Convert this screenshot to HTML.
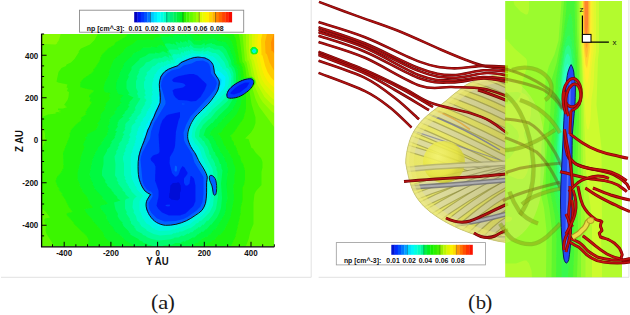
<!DOCTYPE html><html><head><meta charset="utf-8"><style>html,body{margin:0;padding:0;background:#fff;width:630px;height:315px;overflow:hidden}svg{display:block}text{font-family:"Liberation Sans",sans-serif}</style></head><body>
<svg width="630" height="315" viewBox="0 0 630 315">
<defs>
<filter id="cmapA" x="0" y="0" width="100%" height="100%" color-interpolation-filters="sRGB"><feGaussianBlur stdDeviation="1.2"/><feComponentTransfer><feFuncR type="discrete" tableValues="0.000 0.000 0.000 0.000 0.000 0.000 0.000 0.000 0.000 0.000 0.000 0.000 0.000 0.000 0.000 0.000 0.000 0.034 0.083 0.132 0.212 0.322 0.433 0.537 0.627 0.717 0.807 0.867 0.920 0.973 1.000 1.000 1.000 1.000 1.000 1.000 1.000 0.983 0.958 0.934"/><feFuncG type="discrete" tableValues="0.025 0.074 0.129 0.247 0.365 0.482 0.598 0.696 0.794 0.892 0.950 0.969 0.987 0.998 0.993 0.987 0.982 0.976 0.970 0.964 0.965 0.974 0.982 0.988 0.985 0.983 0.981 0.966 0.948 0.930 0.876 0.784 0.692 0.598 0.500 0.402 0.304 0.214 0.129 0.043"/><feFuncB type="discrete" tableValues="0.829 0.919 1.000 1.000 1.000 1.000 1.000 1.000 1.000 1.000 0.954 0.862 0.770 0.667 0.536 0.405 0.275 0.184 0.110 0.037 0.000 0.000 0.000 0.000 0.000 0.000 0.000 0.000 0.000 0.000 0.000 0.000 0.000 0.000 0.000 0.000 0.000 0.000 0.000 0.000"/></feComponentTransfer><feGaussianBlur stdDeviation="0.45"/></filter>
<filter id="bl1" filterUnits="userSpaceOnUse" x="-100" y="-100" width="830" height="515"><feGaussianBlur stdDeviation="1"/></filter>
<filter id="bl2" filterUnits="userSpaceOnUse" x="-100" y="-100" width="830" height="515"><feGaussianBlur stdDeviation="2"/></filter>
<filter id="bl3" filterUnits="userSpaceOnUse" x="-100" y="-100" width="830" height="515"><feGaussianBlur stdDeviation="3"/></filter>
<filter id="bl4" filterUnits="userSpaceOnUse" x="-100" y="-100" width="830" height="515"><feGaussianBlur stdDeviation="4"/></filter>
<filter id="bl6" filterUnits="userSpaceOnUse" x="-100" y="-100" width="830" height="515"><feGaussianBlur stdDeviation="6"/></filter>
<filter id="bl8" filterUnits="userSpaceOnUse" x="-100" y="-100" width="830" height="515"><feGaussianBlur stdDeviation="8"/></filter>
<filter id="bl10" filterUnits="userSpaceOnUse" x="-100" y="-100" width="830" height="515"><feGaussianBlur stdDeviation="10"/></filter>
<filter id="bl14" filterUnits="userSpaceOnUse" x="-100" y="-100" width="830" height="515"><feGaussianBlur stdDeviation="14"/></filter>
<clipPath id="clipA"><rect x="41.5" y="34" width="232.7" height="212.6"/></clipPath>
<clipPath id="clipBlob"><path d="M197.9,57.1 C201,57.3 205,58 205,58 C207,59 209.5,60 210.7,61.4 C212.5,63.5 213.4,65 213.6,67.1 C214,69 214.2,71 214.4,72.9 C215.5,75 217,77 217.9,78.6 C218.8,80 219.5,81.5 219.3,82.9 C219,85.5 218.8,88 217.9,90 C216.5,93 215,95 213.6,97.1 C211.5,100 210,102 207.9,104.3 C205,107 203,109 200.7,111.4 C198.5,113.5 196.5,115.2 195,117.1 C193,120 191.8,122 190.7,124.3 C189,128 188.2,130.5 187.9,132.9 C187.6,135.5 187.5,137.5 188.1,140 C189.2,143.5 190.5,146.5 191.6,148 C193,150.5 194.5,152 195.5,154 C197,157 198,159 198.6,160.5 C200.5,164 202.5,166.5 203.8,169 C205.5,172 206.8,174.5 207.3,177.1 C207.3,179 206.8,180.5 206.6,182.4 C206.6,186 206.6,189.5 206.6,192.8 C206.5,196.5 206.2,200 205.5,203.3 C204.6,206 203.5,208.3 202,210.3 C199.8,212.5 197.5,214 195.1,215.5 C192.3,217.5 189.5,219.3 186.3,220.8 C183,222.3 179.5,223.6 175.9,224.3 C172.4,225 168.8,225.4 165.4,225.3 C162.3,225 159.4,224 156.7,222.5 C154,221 151.7,218.5 149.7,215.5 C148,212.8 146.8,209.8 146.2,206.8 C145.8,204.2 146.2,201.8 147.2,199.8 C148.2,197.8 149.5,196 150.7,194.6 C148.6,193.6 146.8,192.5 145.1,191.1 C143,188.5 141.4,185.5 140.3,182.4 C139,179 138.4,175.5 138.2,171.9 C138,168.4 138,164.9 138.2,161.4 C138.5,157.9 139.2,154.4 140.3,151 C141.5,147.5 142.8,144 144.4,140.5 C145.6,137 146.8,133.5 147.9,130 C149.5,127 150.6,124.3 151.7,121.4 C153.3,118.5 154.5,115.8 155.5,112.9 C157.2,109.5 158.8,106.2 160.1,102.9 C160.5,99.5 160.4,96.2 160.1,92.9 C159.6,90 159.3,87.2 159.3,84.3 C159.5,81.8 160,79.4 160.7,77.1 C161.8,74.9 163.3,73 165,71.4 C167.2,69.7 169.6,68.6 172.1,67.7 C174,66.9 176,66.4 177.9,65.7 C178.8,64.8 179.7,63.8 180.7,62.9 C182,62 183.5,61.4 185,60.9 C187,60 188.8,59.2 190.7,58.6 C193,57.8 195.5,57.2 197.9,57.1 Z"/></clipPath>
<path id="blob" d="M197.9,57.1 C201,57.3 205,58 205,58 C207,59 209.5,60 210.7,61.4 C212.5,63.5 213.4,65 213.6,67.1 C214,69 214.2,71 214.4,72.9 C215.5,75 217,77 217.9,78.6 C218.8,80 219.5,81.5 219.3,82.9 C219,85.5 218.8,88 217.9,90 C216.5,93 215,95 213.6,97.1 C211.5,100 210,102 207.9,104.3 C205,107 203,109 200.7,111.4 C198.5,113.5 196.5,115.2 195,117.1 C193,120 191.8,122 190.7,124.3 C189,128 188.2,130.5 187.9,132.9 C187.6,135.5 187.5,137.5 188.1,140 C189.2,143.5 190.5,146.5 191.6,148 C193,150.5 194.5,152 195.5,154 C197,157 198,159 198.6,160.5 C200.5,164 202.5,166.5 203.8,169 C205.5,172 206.8,174.5 207.3,177.1 C207.3,179 206.8,180.5 206.6,182.4 C206.6,186 206.6,189.5 206.6,192.8 C206.5,196.5 206.2,200 205.5,203.3 C204.6,206 203.5,208.3 202,210.3 C199.8,212.5 197.5,214 195.1,215.5 C192.3,217.5 189.5,219.3 186.3,220.8 C183,222.3 179.5,223.6 175.9,224.3 C172.4,225 168.8,225.4 165.4,225.3 C162.3,225 159.4,224 156.7,222.5 C154,221 151.7,218.5 149.7,215.5 C148,212.8 146.8,209.8 146.2,206.8 C145.8,204.2 146.2,201.8 147.2,199.8 C148.2,197.8 149.5,196 150.7,194.6 C148.6,193.6 146.8,192.5 145.1,191.1 C143,188.5 141.4,185.5 140.3,182.4 C139,179 138.4,175.5 138.2,171.9 C138,168.4 138,164.9 138.2,161.4 C138.5,157.9 139.2,154.4 140.3,151 C141.5,147.5 142.8,144 144.4,140.5 C145.6,137 146.8,133.5 147.9,130 C149.5,127 150.6,124.3 151.7,121.4 C153.3,118.5 154.5,115.8 155.5,112.9 C157.2,109.5 158.8,106.2 160.1,102.9 C160.5,99.5 160.4,96.2 160.1,92.9 C159.6,90 159.3,87.2 159.3,84.3 C159.5,81.8 160,79.4 160.7,77.1 C161.8,74.9 163.3,73 165,71.4 C167.2,69.7 169.6,68.6 172.1,67.7 C174,66.9 176,66.4 177.9,65.7 C178.8,64.8 179.7,63.8 180.7,62.9 C182,62 183.5,61.4 185,60.9 C187,60 188.8,59.2 190.7,58.6 C193,57.8 195.5,57.2 197.9,57.1 Z"/>
<radialGradient id="gTR" cx="274" cy="34" r="70" gradientUnits="userSpaceOnUse"><stop offset="0" stop-color="#dbdbdb"/><stop offset="0.35" stop-color="#c2c2c2"/><stop offset="0.7" stop-color="#a3a3a3"/><stop offset="1" stop-color="#999999" stop-opacity="0"/></radialGradient>
<radialGradient id="gTL" cx="41" cy="34" r="120" gradientUnits="userSpaceOnUse"><stop offset="0" stop-color="#989898"/><stop offset="1" stop-color="#8f8f8f" stop-opacity="0"/></radialGradient>
<filter id="soft" x="0" y="0" width="100%" height="100%"><feGaussianBlur stdDeviation="0.5"/></filter>
</defs>
<g clip-path="url(#clipA)"><g filter="url(#soft)">
<rect x="41" y="33" width="235" height="215" fill="#0008d7"/>
<path fill="#0019f5" fill-rule="evenodd" d="M173.0,183.0 179.0,182.5 180.5,185.0 181.0,189.5 180.0,193.0 180.0,197.5 179.5,199.0 177.5,200.5 171.5,199.5 169.0,197.5 170.5,185.5ZM41.0,33.5 41.0,247.0 274.5,247.0 274.5,33.5Z"/>
<path fill="#003aff" fill-rule="evenodd" d="M165.5,205.0 166.0,206.0 168.0,206.5 170.0,206.0 169.5,204.5ZM180.0,112.0 180.0,117.0 178.5,120.5 176.0,131.5 175.0,146.5 173.5,151.0 170.0,157.0 169.5,163.0 172.0,173.0 175.0,176.5 176.5,176.5 178.5,174.5 180.5,169.0 182.5,166.0 184.5,167.5 187.5,172.5 187.5,174.0 184.0,178.5 184.0,183.0 185.5,185.5 187.5,185.5 189.5,183.5 190.5,176.0 191.5,176.0 194.0,178.5 195.5,185.5 195.5,201.0 193.5,206.0 185.5,213.5 180.0,215.5 169.0,215.5 162.0,212.5 158.0,208.5 156.5,205.5 158.5,196.5 158.5,190.5 155.0,180.5 155.5,166.5 154.0,163.5 151.0,160.5 150.5,158.5 153.0,155.5 158.5,153.5 159.5,151.5 158.5,134.5 160.5,125.0 162.5,120.0 166.5,115.5 168.5,114.5ZM249.5,82.5 247.0,87.0 240.0,92.5 234.0,94.5 230.5,94.0 230.5,92.5 235.0,88.0 239.5,85.0 245.0,82.5ZM174.0,78.0 179.0,76.0 189.0,74.0 193.5,74.0 197.5,75.5 206.5,84.0 206.5,85.5 204.5,90.5 200.5,97.0 196.0,101.0 191.0,101.5 187.0,100.5 178.5,100.0 175.5,97.5 173.5,94.5 172.5,90.5 174.5,89.0 183.0,87.5 185.5,85.5 184.5,84.0 182.0,83.0 173.5,82.0 172.0,80.0ZM41.0,33.5 41.0,247.0 274.5,247.0 274.5,33.5Z"/>
<path fill="#0062ff" fill-rule="evenodd" d="M175.0,165.5 174.5,170.5 176.0,172.0 177.0,170.5 177.0,166.5ZM182.0,103.5 182.5,104.5 185.5,104.0ZM253.5,80.0 254.0,83.0 251.5,87.5 248.0,91.5 242.5,95.5 234.0,98.5 228.5,98.5 226.5,97.5 226.0,94.5 227.5,90.0 232.5,85.0 237.0,82.0 244.5,78.5 251.5,78.0ZM203.0,60.5 207.5,62.5 209.0,64.0 210.5,68.0 211.0,73.5 216.0,80.0 217.0,83.5 215.0,89.0 210.5,95.0 190.5,116.5 186.0,125.0 183.5,132.5 184.0,140.0 185.5,143.5 192.0,154.0 194.5,162.5 203.5,177.0 203.5,194.0 202.5,202.0 200.5,206.5 196.0,211.0 187.5,217.0 183.5,219.0 175.5,221.0 164.5,221.5 157.0,218.5 151.5,213.0 149.0,208.5 148.5,203.0 152.5,196.5 152.5,193.5 151.0,191.5 149.0,191.0 146.5,189.0 144.0,185.5 142.5,181.0 140.5,160.0 141.0,156.5 142.5,152.0 150.0,138.5 151.0,131.5 154.0,123.0 165.5,104.0 165.5,101.0 161.0,86.0 161.5,81.5 163.0,78.0 167.5,73.0 171.5,70.5 179.5,68.5 183.5,65.5 191.5,63.5 196.5,61.0ZM41.0,33.5 41.0,247.0 274.5,247.0 274.5,33.5Z"/>
<path fill="#008aff" fill-rule="evenodd" d="M210.5,175.0 212.5,175.5 214.5,177.5 216.0,181.5 216.5,191.0 215.0,195.0 214.0,195.0 213.0,193.5 211.5,184.0 209.0,178.5 209.0,177.0ZM253.5,80.0 254.0,83.0 251.5,87.5 248.0,91.5 242.5,95.5 234.0,98.5 228.5,98.5 226.5,97.5 226.0,94.5 227.5,90.0 232.5,85.0 237.0,82.0 244.5,78.5 251.5,78.0ZM204.0,57.5 209.5,60.0 211.5,62.0 213.5,67.0 214.0,72.5 219.5,80.5 219.0,87.5 214.0,95.5 206.0,105.0 194.5,116.5 191.0,121.5 187.0,131.5 187.0,138.5 190.0,145.5 193.5,150.0 193.0,150.5 196.5,156.5 197.5,160.5 207.0,176.5 206.5,194.5 205.5,202.5 203.0,208.0 201.0,210.5 187.5,220.0 180.0,223.0 171.0,224.5 163.5,224.5 158.5,223.0 152.5,219.0 146.5,210.0 146.0,201.5 149.5,194.5 144.0,190.5 139.5,182.5 140.0,182.0 138.5,177.0 139.0,175.0 138.0,167.0 138.5,155.5 141.5,146.5 146.0,137.5 147.5,132.5 147.0,131.5 149.0,128.0 149.5,125.0 161.0,103.0 160.0,92.5 159.0,92.0 158.5,82.5 160.0,76.5 165.5,70.5 171.0,67.5 177.5,65.5 182.5,61.5 185.0,61.5 186.0,60.5 192.5,59.0 195.0,57.5ZM41.0,33.5 41.0,247.0 274.5,247.0 274.5,33.5Z"/>
<path fill="#00adff" fill-rule="evenodd" d="M210.0,174.5 212.5,175.0 215.0,177.5 216.5,181.0 217.0,191.0 216.5,193.5 215.0,195.5 214.0,195.5 212.5,193.5 211.0,184.5 208.5,179.0 208.5,176.5ZM253.5,80.0 254.0,83.0 251.5,87.5 248.0,91.5 242.5,95.5 234.0,98.5 228.5,98.5 226.5,97.5 226.0,94.5 227.5,90.0 232.5,85.0 237.0,82.0 244.5,78.5 251.5,78.0ZM204.5,57.0 209.5,59.5 212.0,62.0 214.0,66.5 214.5,72.5 219.5,80.5 219.5,85.0 218.0,90.5 212.5,99.0 207.0,105.5 195.5,116.5 192.0,121.5 188.0,132.0 188.0,139.5 190.5,146.0 196.0,154.0 198.5,160.0 205.0,170.0 207.5,176.0 207.0,194.5 206.0,203.0 203.5,208.5 201.5,211.0 188.0,220.5 177.0,224.5 171.5,225.5 163.5,225.5 158.5,224.0 152.5,220.0 148.5,215.0 146.0,210.0 145.5,201.5 149.5,194.5 144.0,190.5 141.5,187.0 138.5,180.0 137.5,174.5 138.0,155.5 140.0,148.5 141.0,147.5 144.0,138.0 145.0,137.0 147.0,129.5 148.5,127.5 150.5,121.5 153.0,117.5 155.0,111.5 159.5,102.5 158.5,82.5 160.0,76.5 162.0,73.5 167.0,69.0 176.5,65.5 181.0,61.5 188.0,58.5 194.5,56.5ZM41.0,33.5 41.0,247.0 274.5,247.0 274.5,33.5Z"/>
<path fill="#00ceff" fill-rule="evenodd" d="M210.0,174.5 212.5,175.0 215.0,177.5 216.5,181.0 217.0,191.0 216.5,193.5 215.0,195.5 214.0,195.5 212.5,193.5 211.0,184.5 208.5,179.0 208.5,176.5ZM253.5,80.0 254.0,83.0 251.5,87.5 248.0,91.5 242.5,95.5 234.0,98.5 228.5,98.5 226.5,97.5 226.0,94.5 227.5,90.0 232.5,85.0 237.0,82.0 244.5,78.5 251.5,78.0ZM204.5,57.0 209.5,59.5 212.0,62.0 214.0,66.5 214.5,72.5 219.5,80.5 219.5,85.0 218.0,90.5 212.5,99.0 207.0,105.5 195.5,116.5 192.0,121.5 188.0,132.0 188.0,139.5 190.5,146.0 196.0,154.0 198.5,160.0 205.0,170.0 207.5,176.0 207.0,194.5 206.0,203.0 203.5,208.5 201.5,211.0 188.0,220.5 177.0,224.5 171.5,225.5 163.5,225.5 158.5,224.0 152.5,220.0 148.5,215.0 146.0,210.0 145.5,201.5 149.5,194.5 144.0,190.5 141.5,187.0 138.5,180.0 137.5,174.5 138.0,155.5 140.0,148.5 141.0,147.5 144.0,138.0 145.0,137.0 147.0,129.5 148.5,127.5 150.5,121.5 153.0,117.5 155.0,111.5 159.5,102.5 158.5,82.5 160.0,76.5 162.0,73.5 167.0,69.0 176.5,65.5 181.0,61.5 188.0,58.5 194.5,56.5ZM41.0,33.5 41.0,247.0 274.5,247.0 274.5,33.5Z"/>
<path fill="#00f0ff" fill-rule="evenodd" d="M210.0,174.5 212.5,175.0 215.0,177.5 216.5,181.0 217.0,191.0 216.5,193.5 215.0,195.5 214.0,195.5 212.5,193.5 211.0,184.5 208.5,179.0 208.5,176.5ZM253.5,80.0 254.0,83.0 251.5,87.5 248.0,91.5 242.5,95.5 234.0,98.5 228.5,98.5 226.5,97.5 226.0,94.5 227.5,90.0 232.5,85.0 237.0,82.0 244.5,78.5 251.5,78.0ZM204.5,57.0 209.5,59.5 212.0,62.0 214.0,66.5 215.0,73.5 217.0,76.5 220.0,78.0 221.5,80.0 221.0,84.5 219.5,86.0 218.0,90.5 212.5,99.0 207.0,105.5 195.5,116.5 192.0,121.5 188.0,132.0 188.0,139.5 190.5,146.0 196.0,154.0 198.5,160.0 205.0,170.0 207.5,176.0 207.0,194.5 206.0,203.0 203.5,208.5 201.5,211.0 188.0,220.5 177.0,224.5 171.5,225.5 163.5,225.5 158.5,224.0 152.5,220.0 148.5,215.0 146.0,210.0 145.5,201.5 149.5,194.5 144.0,190.5 141.5,187.0 138.5,180.0 137.5,174.5 138.0,155.5 140.0,148.5 141.0,147.5 144.0,138.0 145.0,137.0 147.0,129.5 148.5,127.5 150.5,121.5 153.0,117.5 155.0,111.5 159.5,102.5 158.5,82.5 160.0,76.5 162.0,73.5 167.0,69.0 176.5,65.5 181.0,61.5 188.0,58.5 194.5,56.5ZM41.0,33.5 41.0,247.0 274.5,247.0 274.5,33.5Z"/>
<path fill="#00f6df" fill-rule="evenodd" d="M210.0,174.5 212.5,175.0 215.0,177.5 216.5,181.0 217.0,191.0 216.5,193.5 215.0,195.5 214.0,195.5 212.5,193.5 211.0,184.5 208.5,179.0 208.5,176.5ZM253.5,80.0 254.0,83.0 251.5,87.5 248.0,91.5 242.5,95.5 234.0,98.5 228.5,98.5 226.5,97.5 226.0,94.5 227.5,90.0 232.5,85.0 237.0,82.0 244.5,78.5 251.5,78.0ZM204.5,56.5 210.0,59.0 215.0,64.5 216.0,68.0 217.0,68.5 217.0,71.0 218.5,71.0 220.0,72.5 220.5,72.0 225.5,77.0 225.0,85.5 223.0,89.5 196.0,116.5 190.5,125.5 188.5,132.5 189.5,140.0 193.5,147.5 196.0,150.0 199.5,158.0 199.5,159.5 204.0,167.5 207.5,176.0 208.0,195.0 207.0,202.0 204.0,209.0 198.0,214.5 197.0,214.5 195.5,216.5 194.5,216.5 188.0,221.5 171.5,226.5 160.5,226.5 157.0,225.5 156.5,224.5 154.0,223.5 148.5,217.5 148.5,216.0 147.0,214.5 147.0,213.0 146.0,212.0 146.5,211.0 145.5,210.0 145.5,201.5 149.5,194.5 146.0,192.5 142.5,188.5 140.0,184.0 138.0,177.5 137.5,158.0 139.0,153.5 138.5,152.0 140.0,150.0 139.5,148.5 141.0,147.5 140.5,145.5 142.5,140.5 142.0,139.5 143.0,139.0 142.0,137.5 143.0,136.5 144.0,137.0 143.0,136.0 143.0,133.5 144.5,131.5 144.0,130.0 145.0,129.5 144.0,129.0 146.0,127.5 146.5,128.0 145.5,127.0 146.5,126.5 145.5,126.0 147.0,125.0 146.0,124.5 148.0,123.0 148.0,121.0 150.0,120.0 149.0,119.0 151.0,118.0 150.5,117.0 152.0,113.5 153.5,112.0 153.0,111.5 155.0,109.0 155.5,109.5 155.0,108.5 158.0,102.0 158.0,97.5 159.5,92.5 158.5,88.0 158.5,82.5 160.0,76.5 162.0,73.5 167.0,69.0 177.5,65.0 181.5,60.5 184.0,60.0 185.0,59.0 194.0,56.0ZM41.0,33.5 41.0,247.0 274.5,247.0 274.5,33.5Z"/>
<path fill="#00fcc0" fill-rule="evenodd" d="M253.5,80.0 254.0,83.0 251.5,87.5 248.0,91.5 242.5,95.5 234.0,98.5 228.5,98.5 226.5,97.5 226.0,94.5 227.5,90.0 232.5,85.0 237.0,82.0 244.5,78.5 251.5,78.0ZM206.5,54.0 211.0,56.5 212.5,56.0 215.0,58.0 220.0,64.0 220.5,66.5 222.0,67.0 222.5,69.5 224.5,69.5 227.0,72.5 229.0,78.0 228.5,84.0 226.5,90.5 224.5,93.5 216.0,101.0 207.0,110.0 205.5,112.5 204.0,113.0 197.0,120.5 193.0,127.0 191.5,136.5 195.0,143.5 198.0,146.5 200.5,151.0 202.5,158.0 204.0,159.5 204.5,162.5 206.5,165.0 206.5,167.0 208.0,168.0 210.0,174.5 212.5,175.0 216.0,179.5 217.0,184.5 216.5,193.5 215.0,195.5 213.0,194.5 210.5,183.5 211.0,195.0 209.5,204.5 207.5,209.0 203.0,214.5 199.0,218.0 198.5,217.5 196.0,220.0 195.5,219.5 195.0,220.5 194.0,220.5 189.5,224.5 188.0,224.5 185.5,226.0 185.0,225.5 183.0,227.0 182.5,226.5 181.5,227.5 179.0,227.5 178.0,228.5 176.0,228.5 174.5,229.5 173.5,229.0 170.0,230.5 159.5,231.0 155.0,229.5 154.5,228.5 153.0,228.5 149.5,225.0 146.5,223.5 144.0,220.0 144.5,219.5 142.5,218.0 142.0,215.5 141.0,214.5 141.5,213.5 139.5,211.0 139.5,201.0 142.0,197.0 143.5,196.0 136.5,189.0 136.5,187.0 134.5,185.5 135.0,185.0 131.5,178.0 132.0,176.0 131.0,175.0 130.5,157.0 131.5,155.5 130.5,155.0 132.5,151.5 132.0,150.5 133.5,148.0 133.0,147.0 135.0,145.0 134.0,144.0 135.5,142.5 135.0,141.0 136.5,139.0 135.5,136.5 137.5,134.0 136.5,133.5 137.5,132.0 137.0,131.5 138.5,130.0 137.5,129.0 139.0,127.5 138.5,127.0 141.0,125.0 140.0,124.0 141.0,123.0 140.5,122.5 143.0,120.5 142.5,119.0 146.5,115.0 145.5,114.5 147.0,113.0 146.5,112.0 148.5,110.5 148.0,109.5 151.0,106.5 150.0,105.5 152.0,103.0 151.5,101.5 153.0,100.5 151.5,100.0 151.5,96.0 153.0,94.5 152.0,93.0 152.0,91.0 153.0,90.5 152.0,88.5 152.5,82.0 153.5,80.5 153.0,78.5 154.5,77.0 154.0,76.0 155.0,75.5 154.0,75.0 156.5,73.0 156.0,72.5 157.5,71.5 157.0,71.0 162.0,66.5 164.0,67.0 164.0,65.5 165.5,66.0 168.0,64.0 170.0,64.0 171.5,65.0 171.0,64.0 172.0,63.0 174.0,64.0 174.0,62.5 175.5,63.5 175.0,60.5 177.5,58.0 180.5,57.5 181.5,58.5 182.0,57.0 183.0,58.0 182.0,56.0 182.5,55.5 185.0,57.0 185.5,54.5 187.5,55.5 189.5,54.0 191.0,54.5 191.0,53.0 192.5,54.0 192.5,52.5 194.0,53.5 201.0,54.0 202.5,53.0 203.0,54.5ZM253.0,48.5 255.0,48.5 256.5,50.0 256.5,52.0 254.5,53.5 253.0,53.0 251.5,51.0ZM41.0,33.5 41.0,247.0 274.5,247.0 274.5,33.5Z"/>
<path fill="#00fd99" fill-rule="evenodd" d="M208.0,50.5 209.5,52.0 210.0,51.5 212.5,53.0 215.5,53.0 218.5,55.0 224.5,62.5 226.5,68.0 227.5,68.0 229.5,70.5 231.5,76.5 230.5,87.5 232.5,85.0 237.0,82.0 244.5,78.5 251.5,78.0 253.5,80.0 254.0,83.0 250.0,89.5 241.5,96.0 234.0,98.5 228.5,98.5 227.0,98.0 226.5,96.5 219.5,103.5 212.5,109.5 210.5,112.5 209.5,112.5 207.0,116.0 206.0,116.0 201.5,120.5 196.5,128.0 195.0,132.5 195.0,137.0 203.5,148.0 206.0,156.0 212.5,169.0 213.5,176.0 215.0,177.5 216.5,181.0 216.5,193.5 215.0,195.5 214.0,195.5 213.0,205.5 209.5,212.5 201.0,221.0 200.0,220.5 198.0,223.0 196.0,223.5 195.0,225.0 190.0,228.5 189.5,228.0 182.0,231.5 179.5,231.5 178.5,232.5 176.5,232.5 175.0,233.5 174.0,233.0 171.5,234.5 160.0,235.5 153.5,234.0 146.5,230.5 146.5,229.5 141.0,226.0 141.0,225.0 139.5,224.0 140.0,223.0 137.0,220.5 136.0,216.0 133.5,212.5 134.0,211.0 132.5,207.5 133.0,201.0 134.0,199.0 136.0,197.0 137.0,197.0 131.5,191.5 131.0,189.5 129.0,187.5 129.0,186.5 127.5,185.0 128.0,184.5 125.5,181.5 126.5,181.0 124.5,178.5 125.5,177.5 124.0,175.5 124.0,163.5 123.0,159.5 123.0,156.5 124.5,154.0 123.5,153.5 125.5,151.0 125.0,149.0 126.5,147.0 126.0,145.5 129.0,142.5 128.0,142.0 129.5,140.0 128.5,139.5 130.5,137.0 129.0,135.0 131.5,131.5 130.5,131.0 131.5,130.0 131.5,127.0 132.5,125.0 136.0,122.0 135.0,121.5 135.0,120.5 138.0,118.0 136.5,117.5 141.5,112.5 140.5,112.0 142.0,110.5 141.0,110.0 143.0,108.0 142.5,107.5 144.5,105.5 144.0,105.0 145.5,104.0 144.5,103.0 146.5,100.5 145.5,100.0 146.5,99.0 144.5,98.5 144.5,96.0 146.0,95.5 144.5,93.0 145.5,91.0 144.0,88.0 144.0,82.0 145.5,79.5 144.5,78.0 147.0,74.5 146.5,72.5 150.5,69.5 150.5,68.5 152.0,68.0 151.5,67.5 152.5,66.5 154.5,66.0 158.5,62.5 161.5,63.0 160.5,62.0 161.0,61.5 164.0,62.5 164.0,61.5 165.0,62.0 164.5,61.5 166.0,61.5 166.0,60.5 167.0,61.0 167.0,60.0 170.0,61.5 170.5,62.5 170.5,59.0 172.5,60.5 173.0,59.0 174.0,60.0 172.0,56.5 173.5,54.0 177.5,54.5 178.0,53.5 180.5,55.0 180.0,54.0 181.0,53.5 181.0,52.0 184.0,53.0 184.0,51.0 186.5,52.0 186.0,51.0 186.5,50.5 188.0,51.5 188.0,50.0 190.5,52.0 190.0,50.0 190.5,49.5 191.5,50.5 191.5,49.0 194.0,51.0 201.0,51.5 203.5,50.0 203.5,52.0ZM253.0,48.5 255.0,48.5 256.5,50.0 256.5,52.0 254.5,53.5 253.0,53.0 251.5,51.0ZM41.0,33.5 41.0,247.0 274.5,247.0 274.5,33.5Z"/>
<path fill="#00fc6c" fill-rule="evenodd" d="M253.0,48.5 255.0,48.5 256.5,50.0 256.5,52.0 254.5,53.5 253.0,53.0 251.5,51.0ZM219.0,49.5 223.0,53.0 228.0,61.5 229.5,67.0 231.0,67.5 233.5,73.5 233.5,84.5 241.0,80.0 247.5,78.0 251.5,78.0 253.5,80.0 254.0,83.0 250.0,89.5 242.5,95.5 234.0,98.5 229.0,98.5 227.5,101.0 216.0,111.5 210.5,118.5 208.5,119.5 203.0,125.0 201.0,129.0 200.0,129.5 199.0,136.5 201.5,138.5 203.0,141.0 204.0,141.0 206.0,145.5 207.0,146.0 209.0,151.0 209.5,154.5 211.0,155.0 211.5,158.5 212.5,158.5 215.0,163.5 215.0,165.5 216.5,167.0 216.5,170.0 217.5,172.0 217.0,188.0 218.0,196.5 216.0,209.0 212.5,215.5 208.0,221.0 207.0,220.5 203.5,225.0 202.5,224.5 200.0,227.5 198.5,227.0 197.0,229.0 196.5,228.5 195.5,230.0 195.0,229.5 192.0,232.5 191.0,232.0 188.5,234.0 187.5,233.5 183.5,236.0 181.5,235.5 178.5,237.5 174.5,237.5 173.5,238.5 169.5,239.5 159.0,240.5 151.5,239.0 146.5,237.0 146.0,236.0 143.0,235.0 142.0,233.5 137.0,231.0 135.5,229.5 136.0,229.0 134.0,227.5 135.0,227.0 131.0,223.5 131.0,221.5 129.5,220.0 130.0,219.0 126.0,213.0 127.0,212.5 125.0,208.5 125.0,200.5 126.0,199.0 129.5,198.0 125.5,194.5 125.0,192.5 122.0,190.0 123.0,189.5 118.0,183.5 118.5,182.5 116.5,180.0 117.5,179.0 115.0,175.5 115.5,164.5 114.5,156.5 116.5,153.0 116.0,151.5 118.5,148.0 117.5,147.5 119.5,145.0 118.5,144.0 122.0,140.0 121.5,139.0 123.0,137.5 122.5,136.5 124.5,134.0 122.5,133.0 125.5,129.0 124.5,128.5 125.5,126.0 125.0,125.0 126.0,123.0 130.0,119.5 128.5,118.5 132.0,115.5 131.0,115.0 134.5,112.0 133.5,111.5 135.5,110.0 135.0,107.5 140.5,98.5 137.0,97.0 138.5,96.5 137.0,93.5 138.0,92.0 136.0,88.0 136.0,81.0 137.5,78.0 136.5,77.0 139.0,72.5 138.5,71.5 139.5,70.5 139.5,69.0 144.0,65.5 146.0,62.5 149.5,61.5 154.0,58.5 158.5,58.5 158.5,57.5 161.5,58.0 165.0,56.0 168.0,57.0 169.5,58.5 168.5,55.5 169.0,55.0 171.5,56.5 171.0,54.5 168.5,51.0 169.5,49.5 177.0,49.5 179.0,50.5 178.0,48.0 178.5,47.5 180.0,47.5 182.5,49.0 181.5,47.5 182.0,46.5 185.0,48.0 184.5,47.0 186.5,47.0 186.5,45.5 189.5,48.0 189.0,46.0 190.0,46.0 190.0,44.5 194.0,48.0 201.0,48.5 204.0,47.0 204.5,49.0 207.0,47.5 210.0,47.0 210.0,48.0 211.0,47.5 211.0,48.5 212.0,48.0 214.5,49.5ZM41.0,33.5 41.0,247.0 274.5,247.0 274.5,33.5Z"/>
<path fill="#00fa40" fill-rule="evenodd" d="M253.0,48.5 255.0,48.5 256.5,50.0 256.5,52.0 254.5,53.5 253.0,53.0 251.5,51.0ZM222.5,46.0 226.0,49.5 231.0,60.5 231.5,64.5 234.5,68.5 236.0,74.0 236.0,83.0 241.0,80.0 247.5,78.0 251.5,78.0 253.5,80.0 254.0,83.0 251.5,87.5 248.0,91.5 242.5,95.5 233.0,99.0 228.0,107.0 218.5,116.0 216.5,119.0 216.0,118.5 212.5,123.0 211.5,123.0 206.0,128.5 203.5,135.5 205.0,136.0 206.0,138.0 207.5,138.5 209.5,141.0 210.0,143.5 211.0,143.5 211.5,146.5 214.0,152.0 215.0,152.0 215.5,155.0 218.0,158.0 220.0,164.0 221.0,164.0 221.5,168.5 222.5,170.5 221.0,183.5 222.0,198.0 221.0,208.0 219.5,212.5 217.0,217.5 211.0,225.0 210.5,224.5 206.5,229.5 206.0,229.0 203.0,232.0 201.5,231.5 200.0,233.5 199.5,233.0 198.5,234.5 198.0,234.0 194.5,237.5 192.5,237.5 187.5,240.5 187.0,240.0 184.5,242.0 183.5,241.0 180.5,243.0 175.5,243.0 171.5,245.0 165.5,245.0 160.5,246.5 154.0,246.5 150.5,245.0 148.5,245.0 146.5,243.5 143.0,242.5 142.5,241.5 139.5,240.5 138.5,239.0 131.0,235.0 130.0,234.0 130.5,233.5 128.5,232.0 129.0,231.5 123.0,225.5 123.5,225.0 122.0,223.5 123.0,223.0 119.5,219.5 117.5,216.0 118.0,214.0 115.5,209.5 114.0,202.5 120.5,200.5 117.5,198.5 117.0,196.5 113.5,193.5 114.0,193.0 111.5,190.5 111.5,189.5 107.0,185.5 107.5,184.5 105.0,182.0 105.5,180.5 102.0,175.5 102.0,171.0 103.5,164.0 103.5,157.0 107.0,151.0 107.0,149.5 110.5,146.0 110.0,145.0 112.0,142.5 111.0,142.0 115.0,137.5 114.5,136.5 116.0,134.5 115.0,134.0 117.0,131.5 115.0,130.5 118.0,126.5 117.0,125.0 118.0,124.0 117.5,122.5 119.0,121.0 118.5,120.5 123.5,116.5 122.0,115.5 125.0,113.0 124.5,112.0 128.0,109.0 127.5,108.5 129.5,106.5 128.0,105.0 130.0,103.0 129.0,102.5 133.5,97.5 128.5,95.0 128.0,94.0 129.5,93.5 126.5,88.5 126.5,81.5 129.0,76.5 128.0,75.5 131.5,69.5 131.5,67.0 139.5,59.5 139.5,58.5 145.5,56.0 149.0,53.5 155.0,53.5 155.0,52.5 159.5,53.5 159.5,52.5 160.5,53.0 160.0,52.5 161.5,52.5 161.5,51.5 162.5,52.0 162.5,51.0 168.0,53.5 167.0,51.0 168.5,50.5 164.5,44.5 166.0,43.5 170.0,43.5 172.5,44.5 173.0,43.5 177.0,45.5 175.5,42.5 176.0,41.5 180.0,43.5 180.0,41.0 183.5,43.0 183.0,42.0 184.0,41.5 185.0,42.5 184.5,41.5 185.5,41.0 188.0,43.0 187.5,41.0 188.5,39.5 191.0,41.0 194.0,44.5 201.0,45.0 204.5,43.0 205.0,45.5 207.0,44.0 212.0,43.0 212.0,44.0 213.5,44.0 213.0,44.5 214.0,44.0 216.5,45.5ZM41.0,33.5 41.0,247.0 274.5,247.0 274.5,33.5Z"/>
<path fill="#0ff825" fill-rule="evenodd" d="M253.0,48.5 255.0,48.5 256.5,50.0 256.5,52.0 254.5,53.5 253.0,53.0 251.5,51.0ZM41.0,33.5 41.0,247.0 135.5,247.0 133.5,245.0 124.5,240.0 123.5,238.0 121.5,237.0 122.0,236.5 115.0,231.5 114.0,230.0 114.5,229.5 113.0,228.5 113.5,227.5 110.5,225.0 106.5,218.5 106.5,216.0 100.0,207.5 100.5,205.5 107.5,204.0 107.5,203.0 102.0,198.0 103.0,197.5 94.0,188.0 94.5,187.0 92.5,184.5 93.0,183.5 91.0,180.0 89.5,174.5 92.5,159.5 96.0,151.5 98.0,149.0 97.5,148.0 102.0,143.5 101.0,143.0 104.0,140.0 103.0,139.5 107.5,134.5 107.0,133.0 108.5,131.5 107.5,131.0 109.0,128.5 107.5,127.0 110.0,123.0 109.0,122.5 110.0,120.5 109.0,120.0 110.5,118.5 110.5,117.5 115.5,113.0 114.0,112.0 117.0,109.5 116.0,108.5 120.0,105.0 119.5,104.5 121.5,102.5 119.5,101.0 121.0,99.5 120.5,98.5 123.5,95.0 119.0,94.5 118.0,93.5 116.0,88.5 116.5,82.0 120.0,74.5 119.0,74.0 123.0,67.0 124.0,63.5 130.0,57.5 132.0,56.5 131.5,56.0 134.0,53.0 140.0,50.5 143.0,47.5 151.0,47.5 151.0,46.5 156.5,47.5 157.5,47.0 157.5,46.0 158.5,46.5 158.0,46.0 159.5,45.0 162.5,45.5 166.0,47.5 161.0,38.0 161.5,36.5 169.0,37.0 168.5,36.5 169.5,36.0 174.0,38.0 172.5,35.0 173.5,34.5 177.5,36.5 176.5,35.0 177.0,34.0 180.5,36.0 181.5,35.0 182.5,35.5 183.0,34.5 186.5,37.0 186.5,33.5 190.0,35.5 194.5,40.5 201.5,40.5 205.0,38.5 205.5,41.0 209.5,39.0 214.0,38.5 218.5,41.0 225.5,42.0 230.0,48.0 231.0,52.5 232.5,55.0 234.5,64.5 236.0,65.5 238.0,71.0 238.5,81.5 244.5,78.5 251.5,78.0 254.0,81.0 254.0,83.0 250.0,89.5 242.5,95.5 237.5,97.0 236.5,102.0 232.5,109.5 223.0,119.0 221.0,122.0 219.0,123.0 216.0,127.5 215.0,127.0 210.5,132.0 210.5,133.5 209.5,134.0 209.5,135.0 212.5,136.0 214.5,140.5 215.5,141.0 216.0,143.5 220.0,150.0 220.5,152.5 222.5,154.0 223.0,156.0 224.5,157.5 225.0,160.5 227.0,163.5 227.0,166.5 228.0,168.5 226.5,184.0 227.5,198.5 226.0,204.5 226.0,209.0 224.5,214.5 215.0,230.0 214.0,229.5 210.0,235.0 209.5,234.0 207.0,237.0 205.0,237.0 203.5,238.5 203.0,238.0 197.5,243.0 195.5,243.0 193.0,245.5 192.0,245.0 190.0,247.0 274.5,247.0 274.5,33.5Z"/>
<path fill="#1ff60c" fill-rule="evenodd" d="M252.0,47.0 255.0,46.5 258.0,49.0 258.5,51.5 256.5,54.5 253.0,55.0 250.5,53.0 250.0,49.5ZM217.5,33.5 221.0,36.0 225.5,36.5 229.5,38.5 232.0,42.0 235.5,54.0 237.0,64.0 238.5,64.5 240.0,68.5 241.5,79.5 244.5,78.0 251.5,77.5 254.0,80.0 254.5,83.0 250.5,89.5 242.0,96.0 241.0,104.5 236.5,114.5 223.0,129.0 222.0,131.5 220.5,133.0 219.5,132.5 217.5,134.0 219.0,134.5 221.5,138.0 224.5,146.0 225.5,146.0 226.5,149.5 227.5,149.5 229.0,153.5 230.0,153.5 231.0,157.0 232.5,158.5 233.5,163.5 235.0,166.5 235.5,171.0 234.5,175.0 234.5,183.0 233.5,185.0 234.0,199.0 230.5,217.5 225.0,229.0 220.0,235.5 219.0,234.5 214.5,240.0 213.0,240.0 209.5,243.0 208.5,242.5 203.5,247.0 274.5,247.0 274.5,33.5ZM206.0,35.5 212.0,33.5 206.5,33.5ZM193.5,33.5 194.0,34.5 200.5,35.5 205.0,33.5ZM41.0,33.5 41.0,247.0 116.5,247.0 115.0,246.5 114.5,245.0 112.5,244.0 112.5,243.0 108.5,241.0 104.5,237.0 103.0,232.5 92.0,220.0 92.5,219.5 87.5,214.5 84.5,210.0 85.0,209.0 93.0,207.5 89.0,203.0 90.0,202.5 87.5,199.0 87.5,197.5 82.0,191.0 82.5,190.0 79.5,186.0 80.0,185.0 77.5,179.0 77.5,173.0 80.5,161.0 80.5,157.5 84.5,146.5 83.0,145.0 84.5,141.0 86.5,139.0 84.5,138.0 88.0,135.5 87.0,135.5 86.5,134.5 96.5,129.5 95.5,129.0 97.5,127.5 97.0,126.5 99.0,125.0 97.0,123.5 100.5,119.5 99.5,119.0 100.5,117.5 100.5,114.5 105.5,108.5 104.0,107.5 106.5,104.5 105.0,104.0 109.5,99.5 109.0,99.0 110.5,97.5 108.5,96.5 110.0,95.0 109.0,94.5 110.5,93.0 105.5,92.5 104.0,91.0 103.5,87.5 105.0,82.0 109.0,75.0 109.5,73.0 108.5,72.5 113.0,61.0 115.5,58.0 123.5,51.5 123.5,50.5 126.0,47.5 132.5,44.0 137.0,40.0 146.0,40.0 146.0,39.0 152.5,40.0 154.5,38.5 154.5,37.5 155.5,38.0 155.5,37.0 161.0,37.5 158.5,33.5Z"/>
<path fill="#3af600" fill-rule="evenodd" d="M252.0,47.0 255.0,46.5 258.0,49.0 258.5,51.5 256.5,54.5 253.0,55.0 250.5,53.0 250.0,49.5ZM232.5,33.5 234.0,35.0 236.0,40.0 239.5,62.0 241.0,63.5 242.5,67.5 244.0,78.0 252.0,77.5 254.5,80.5 254.5,83.5 250.5,90.0 246.0,93.5 246.0,109.5 243.5,118.5 233.0,133.5 230.0,136.0 231.5,137.0 232.0,140.0 234.0,142.5 234.0,145.0 235.5,145.5 238.5,154.5 240.0,156.0 241.5,162.0 243.0,163.5 245.0,170.5 245.0,179.5 244.0,185.0 242.5,187.5 242.5,200.5 241.0,206.5 240.5,214.0 235.5,236.5 231.5,245.0 229.5,247.0 228.0,245.5 225.5,247.0 274.5,247.0 274.5,33.5ZM41.0,33.5 41.0,247.0 89.5,247.0 87.5,243.5 88.5,242.5 88.5,239.5 86.5,236.0 73.5,223.5 74.0,223.0 67.0,215.5 66.5,214.0 67.5,213.0 72.5,212.0 68.5,206.5 65.0,199.0 61.5,194.5 62.5,194.0 58.5,189.5 59.5,189.0 57.5,186.5 55.5,181.0 57.0,177.0 61.0,172.5 63.5,167.5 63.0,153.0 70.0,135.0 69.5,133.5 71.0,131.0 70.5,130.5 76.0,124.5 81.0,120.5 81.0,119.5 82.5,119.0 80.5,118.0 86.5,114.0 85.0,113.5 86.5,112.5 85.0,112.0 87.0,110.5 86.5,110.0 91.5,103.0 91.5,102.0 89.5,101.0 90.5,98.0 89.0,97.0 89.0,95.5 92.0,92.5 93.5,92.0 93.0,91.0 94.0,90.5 81.0,87.5 80.0,86.5 80.5,82.0 83.5,78.5 91.0,73.5 94.0,70.5 93.0,70.0 96.0,66.5 100.5,59.0 100.0,58.5 102.0,54.5 108.0,48.5 114.0,45.0 115.5,42.5 126.0,36.5 128.0,33.5Z"/>
<path fill="#60f900" fill-rule="evenodd" d="M41.0,208.0 41.0,247.0 54.0,247.0 51.5,241.5 46.5,234.0 45.5,231.0 46.0,226.0 44.0,220.0 45.0,218.5 50.0,217.5 45.5,211.5ZM41.5,126.0 41.0,153.0 42.0,148.5 46.0,139.5 46.0,138.5 45.0,138.0 45.0,133.5 43.0,127.5ZM252.0,47.0 255.0,46.5 258.0,49.0 258.5,51.5 256.5,54.5 253.0,55.0 250.5,53.0 250.0,49.5ZM238.5,33.5 240.0,40.5 242.5,62.0 244.0,63.5 245.5,68.5 246.5,77.5 252.0,77.0 255.0,80.5 255.0,83.5 249.5,91.5 251.5,104.0 255.5,117.5 255.5,123.0 254.0,127.5 251.0,132.5 245.0,138.5 248.5,139.0 251.5,148.0 253.0,148.5 255.5,152.5 261.0,158.0 262.5,162.0 262.5,167.5 261.5,171.5 261.5,185.0 256.0,191.0 254.5,194.0 253.5,202.0 253.5,224.0 250.5,231.0 248.5,239.5 245.5,247.0 274.5,247.0 274.5,33.5ZM98.0,33.5 41.0,33.5 41.0,119.0 43.5,116.5 48.0,114.5 56.5,113.5 55.0,113.0 57.0,112.0 61.0,112.5 58.5,111.5 61.5,111.0 58.0,110.0 58.0,108.5 63.0,108.5 67.5,107.0 65.5,106.5 65.5,105.5 64.0,105.0 67.5,100.0 68.5,97.0 69.0,92.0 67.0,91.0 68.0,88.0 66.5,87.5 67.5,84.5 58.0,82.5 56.5,81.5 58.5,72.0 61.5,68.0 66.0,66.0 66.5,64.5 71.0,62.5 74.5,59.0 79.0,52.0 78.5,51.5 81.0,48.5 90.0,44.5 94.5,40.0Z"/>
<path fill="#85fb00" fill-rule="evenodd" d="M252.0,47.0 255.0,46.5 258.0,49.0 258.5,51.5 256.5,54.5 253.0,55.0 250.5,53.0 250.0,49.5ZM242.5,33.5 245.0,61.5 245.5,61.0 246.5,62.5 249.5,76.5 252.0,76.5 255.5,80.5 255.5,83.5 252.5,88.5 255.5,99.0 259.0,106.5 274.5,127.5 274.5,33.5ZM41.0,45.5 44.0,44.0 55.5,44.5 57.5,43.0 57.0,42.5 58.5,41.0 61.0,33.5 41.0,33.5Z"/>
<path fill="#a3fb00" fill-rule="evenodd" d="M252.0,47.0 255.0,46.5 258.0,49.0 258.5,51.5 256.5,54.5 253.0,55.0 250.5,53.0 250.0,49.5ZM246.0,33.5 246.0,46.5 247.5,60.5 248.5,60.5 250.0,65.5 252.0,76.5 255.0,79.0 256.0,81.0 256.0,83.0 254.5,86.0 260.0,98.0 263.0,102.5 271.5,111.5 274.5,113.5 274.5,33.5Z"/>
<path fill="#c2fa00" fill-rule="evenodd" d="M252.0,47.0 255.0,46.5 258.0,49.0 258.5,51.5 256.5,54.5 253.0,55.0 250.5,53.0 250.0,49.5ZM249.0,33.5 249.0,51.0 250.0,59.5 251.0,59.5 255.0,78.0 257.0,84.0 264.5,97.0 272.0,104.5 274.5,106.0 274.5,33.5Z"/>
<path fill="#daf700" fill-rule="evenodd" d="M252.0,33.5 252.0,47.0 255.0,46.5 258.5,50.0 258.0,53.0 256.5,54.5 252.5,54.5 252.5,58.5 254.0,60.5 258.5,79.5 261.0,85.0 265.5,91.5 270.5,97.0 274.5,100.0 274.5,33.5Z"/>
<path fill="#ecf100" fill-rule="evenodd" d="M255.0,33.5 254.5,46.5 256.0,47.0 258.5,50.0 258.0,53.0 255.0,55.5 256.5,58.5 260.0,74.0 262.0,79.5 265.0,84.5 274.5,94.0 274.5,33.5Z"/>
<path fill="#ffeb00" fill-rule="evenodd" d="M258.5,33.5 257.5,38.5 257.5,48.5 258.5,50.0 258.0,55.0 259.5,58.0 262.0,69.0 264.5,76.0 267.5,81.0 271.0,85.0 274.5,87.5 274.5,33.5Z"/>
<path fill="#ffcb00" fill-rule="evenodd" d="M262.5,33.5 261.0,39.5 261.5,55.0 262.5,55.5 265.0,65.5 267.5,72.0 271.0,77.5 274.5,81.0 274.5,33.5Z"/>
<path fill="#ffac00" fill-rule="evenodd" d="M267.0,33.5 265.0,42.0 265.5,53.0 267.0,54.5 269.5,62.5 274.5,71.5 274.5,33.5Z"/>
<path fill="#ff8c00" fill-rule="evenodd" d="M274.0,33.5 271.0,42.5 271.5,51.0 272.5,51.0 274.5,54.0Z"/>
</g>
<use href="#blob" fill="none" stroke="#111" stroke-width="1"/>
<path d="M211,175.2 C213.3,175.8 215.1,177.6 215.9,180.6 C216.7,183.8 216.8,187.5 216.5,191 C216.3,193.6 215.7,195.2 214.7,195.4 C213.5,195.2 213.1,193 212.8,190 C212.5,187 211.7,184.6 210.5,182.4 C209.3,180.2 209.1,177.6 209.7,176 C210.1,175.4 210.5,175.2 211,175.2 Z" fill="none" stroke="#111" stroke-width="0.9"/>
<path d="M227.3,97.5 C229,99 237,98.5 243,94.7 C248,91.5 252,88 253.4,84 C254.5,80.5 252.5,78.5 249.5,78.7 C244,79 236,82.5 231,87.5 C228,90.5 226,94 227.3,97.5 Z" fill="none" stroke="#111" stroke-width="1"/>
</g>
<g stroke="#000" fill="none">
<path d="M41.6,33.8 V246.8 H274.3" stroke-width="1.3"/>
<path d="M52.52,246.8 v-2.5 M64.20,246.8 v-5 M75.87,246.8 v-2.5 M87.55,246.8 v-2.5 M99.22,246.8 v-2.5 M110.90,246.8 v-5 M122.57,246.8 v-2.5 M134.25,246.8 v-2.5 M145.92,246.8 v-2.5 M157.60,246.8 v-5 M169.28,246.8 v-2.5 M180.95,246.8 v-2.5 M192.62,246.8 v-2.5 M204.30,246.8 v-5 M215.97,246.8 v-2.5 M227.65,246.8 v-2.5 M239.32,246.8 v-2.5 M251.00,246.8 v-5 M262.68,246.8 v-2.5 M274.35,246.8 v-2.5 M41.6,235.88 h2.5 M41.6,225.25 h5 M41.6,214.62 h2.5 M41.6,204.00 h2.5 M41.6,193.38 h2.5 M41.6,182.75 h5 M41.6,172.12 h2.5 M41.6,161.50 h2.5 M41.6,150.88 h2.5 M41.6,140.25 h5 M41.6,129.62 h2.5 M41.6,119.00 h2.5 M41.6,108.38 h2.5 M41.6,97.75 h5 M41.6,87.12 h2.5 M41.6,76.50 h2.5 M41.6,65.88 h2.5 M41.6,55.25 h5 M41.6,44.62 h2.5 M41.6,34.00 h2.5" stroke-width="1"/>
</g>
<g font-size="8" font-weight="bold" fill="#111">
<text transform="translate(64.2,255.6) scale(1,1.2)" text-anchor="middle">-400</text>
<text transform="translate(110.9,255.6) scale(1,1.2)" text-anchor="middle">-200</text>
<text transform="translate(157.6,255.6) scale(1,1.2)" text-anchor="middle">0</text>
<text transform="translate(204.3,255.6) scale(1,1.2)" text-anchor="middle">200</text>
<text transform="translate(251.0,255.6) scale(1,1.2)" text-anchor="middle">400</text>
<text transform="translate(38.3,228.4) scale(1,1.2)" text-anchor="end">-400</text>
<text transform="translate(38.3,185.9) scale(1,1.2)" text-anchor="end">-200</text>
<text transform="translate(38.3,143.4) scale(1,1.2)" text-anchor="end">0</text>
<text transform="translate(38.3,101.0) scale(1,1.2)" text-anchor="end">200</text>
<text transform="translate(38.3,58.5) scale(1,1.2)" text-anchor="end">400</text>
</g>
<text transform="translate(157.5,264.9) scale(1,1.12)" font-size="9.6" font-weight="bold" text-anchor="middle" fill="#111">Y AU</text>
<text transform="translate(23.2,141) rotate(-90) scale(1,1.12)" font-size="9.6" font-weight="bold" text-anchor="middle" fill="#111">Z AU</text>
<rect x="79.5" y="10.2" width="164.2" height="22" fill="#fff" stroke="#8a8a8a" stroke-width="0.9"/>
<rect x="134.20" y="12" width="3.55" height="10.4" fill="rgb(0,0,190)"/><rect x="137.45" y="12" width="3.55" height="10.4" fill="rgb(0,20,240)"/><rect x="140.71" y="12" width="3.55" height="10.4" fill="rgb(0,50,255)"/><rect x="143.96" y="12" width="3.55" height="10.4" fill="rgb(0,80,255)"/><rect x="147.21" y="12" width="3.55" height="10.4" fill="rgb(0,120,255)"/><rect x="150.47" y="12" width="3.55" height="10.4" fill="rgb(0,200,255)"/><rect x="153.72" y="12" width="3.55" height="10.4" fill="rgb(0,230,255)"/><rect x="156.97" y="12" width="3.55" height="10.4" fill="rgb(0,255,255)"/><rect x="160.23" y="12" width="3.55" height="10.4" fill="rgb(0,255,230)"/><rect x="163.48" y="12" width="3.55" height="10.4" fill="rgb(0,255,200)"/><rect x="166.73" y="12" width="3.55" height="10.4" fill="rgb(0,240,150)"/><rect x="169.99" y="12" width="3.55" height="10.4" fill="rgb(0,240,120)"/><rect x="173.24" y="12" width="3.55" height="10.4" fill="rgb(0,240,90)"/><rect x="176.49" y="12" width="3.55" height="10.4" fill="rgb(0,240,60)"/><rect x="179.75" y="12" width="3.55" height="10.4" fill="rgb(0,240,30)"/><rect x="183.00" y="12" width="3.55" height="10.4" fill="rgb(40,240,0)"/><rect x="186.25" y="12" width="3.55" height="10.4" fill="rgb(70,245,0)"/><rect x="189.51" y="12" width="3.55" height="10.4" fill="rgb(100,250,0)"/><rect x="192.76" y="12" width="3.55" height="10.4" fill="rgb(130,250,0)"/><rect x="196.01" y="12" width="3.55" height="10.4" fill="rgb(160,250,0)"/><rect x="199.27" y="12" width="3.55" height="10.4" fill="rgb(220,250,0)"/><rect x="202.52" y="12" width="3.55" height="10.4" fill="rgb(240,250,0)"/><rect x="205.77" y="12" width="3.55" height="10.4" fill="rgb(255,240,0)"/><rect x="209.03" y="12" width="3.55" height="10.4" fill="rgb(255,210,0)"/><rect x="212.28" y="12" width="3.55" height="10.4" fill="rgb(255,180,0)"/><rect x="215.53" y="12" width="3.55" height="10.4" fill="rgb(255,130,0)"/><rect x="218.79" y="12" width="3.55" height="10.4" fill="rgb(255,100,0)"/><rect x="222.04" y="12" width="3.55" height="10.4" fill="rgb(255,70,0)"/><rect x="225.29" y="12" width="3.55" height="10.4" fill="rgb(255,40,0)"/><rect x="228.55" y="12" width="3.55" height="10.4" fill="rgb(245,10,0)"/><rect x="149.97" y="12" width="1" height="10.4" fill="#000" opacity="0.35"/><rect x="166.23" y="12" width="1" height="10.4" fill="#000" opacity="0.35"/><rect x="182.50" y="12" width="1" height="10.4" fill="#000" opacity="0.35"/><rect x="198.77" y="12" width="1" height="10.4" fill="#000" opacity="0.35"/><rect x="215.03" y="12" width="1" height="10.4" fill="#000" opacity="0.35"/>
<g font-size="7" font-weight="bold" fill="#111">
<text transform="translate(86.8,30.6) scale(1,1.08)">np [cm^-3]:</text>
<text transform="translate(128.6,30.6) scale(1,1.08)">0.01</text>
<text transform="translate(144.9,30.6) scale(1,1.08)">0.02</text>
<text transform="translate(161.2,30.6) scale(1,1.08)">0.03</text>
<text transform="translate(177.5,30.6) scale(1,1.08)">0.05</text>
<text transform="translate(193.8,30.6) scale(1,1.08)">0.06</text>
<text transform="translate(210.1,30.6) scale(1,1.08)">0.08</text>
</g>
<path d="M311.2,0 V277.3 M1,277.3 H311.2 M318.6,277.3 H629 M628.9,0 V277.3" stroke="#e2e2e2" stroke-width="1" fill="none"/>
<g fill="#1a1a1a" style="font-family:'Liberation Serif',serif">
<text x="151.1" y="309.3" font-size="22" style="font-family:'Liberation Serif',serif">(</text>
<text transform="translate(157.9,308.5) scale(1.3,1)" font-size="18" style="font-family:'Liberation Serif',serif">a</text>
<text x="167.6" y="309.3" font-size="22" style="font-family:'Liberation Serif',serif">)</text>
<text x="468.1" y="309.3" font-size="22" style="font-family:'Liberation Serif',serif">(</text>
<text transform="translate(475.8,308.7) scale(1.09,1)" font-size="19" style="font-family:'Liberation Serif',serif">b</text>
<text x="485.1" y="309.3" font-size="22" style="font-family:'Liberation Serif',serif">)</text>
</g>
<defs><clipPath id="domeClip"><path d="M506,73.5 C498,74 492,75.5 486.7,77 C481,78.5 477,80 472.4,81.7 C467,84 463,86.5 459.7,89.7 C455,93 451,96.5 447,100 C441,105 432,111 425,117.5 C418,124 412.5,132 409.5,141 C407,149 405.6,157 405.7,163 C408,176 410,184 413.5,192 C418,201 424,207 431,212.5 C442,221 456,228 470,233 C482,237.5 494,241 506,242.5 Z"/></clipPath><radialGradient id="domeG" cx="450" cy="160" r="100" gradientUnits="userSpaceOnUse"><stop offset="0" stop-color="#ecea6c"/><stop offset="0.7" stop-color="#e4e262"/><stop offset="1" stop-color="#e8e67a"/></radialGradient></defs><path d="M506,73.5 C498,74 492,75.5 486.7,77 C481,78.5 477,80 472.4,81.7 C467,84 463,86.5 459.7,89.7 C455,93 451,96.5 447,100 C441,105 432,111 425,117.5 C418,124 412.5,132 409.5,141 C407,149 405.6,157 405.7,163 C408,176 410,184 413.5,192 C418,201 424,207 431,212.5 C442,221 456,228 470,233 C482,237.5 494,241 506,242.5 Z" fill="url(#domeG)"/><g clip-path="url(#domeClip)"><path d="M494.0,70.2 Q506.0,70.8 512,75.6" fill="none" stroke="#8a884c" stroke-width="7.4" opacity="0.6"/><path d="M494.0,70.2 Q506.0,70.8 512,75.6" fill="none" stroke="#e2e0a4" stroke-width="5" opacity="0.9"/><path d="M482.0,74.0 Q500.0,77.1 512,84.2" fill="none" stroke="#8a884c" stroke-width="7.4" opacity="0.6"/><path d="M482.0,74.0 Q500.0,77.1 512,84.2" fill="none" stroke="#e2e0a4" stroke-width="5" opacity="0.9"/><path d="M468.0,77.7 Q493.0,84.2 512,94.4" fill="none" stroke="#8a884c" stroke-width="7.4" opacity="0.6"/><path d="M468.0,77.7 Q493.0,84.2 512,94.4" fill="none" stroke="#e2e0a4" stroke-width="5" opacity="0.9"/><path d="M454.0,83.6 Q486.0,93.4 512,106.8" fill="none" stroke="#8a884c" stroke-width="7.4" opacity="0.6"/><path d="M454.0,83.6 Q486.0,93.4 512,106.8" fill="none" stroke="#e2e0a4" stroke-width="5" opacity="0.9"/><path d="M441.0,90.5 Q479.5,103.7 512,120.3" fill="none" stroke="#8a884c" stroke-width="7.4" opacity="0.6"/><path d="M441.0,90.5 Q479.5,103.7 512,120.3" fill="none" stroke="#e2e0a4" stroke-width="5" opacity="0.9"/><path d="M429.0,98.4 Q473.5,114.9 512,134.9" fill="none" stroke="#8a884c" stroke-width="7.4" opacity="0.6"/><path d="M429.0,98.4 Q473.5,114.9 512,134.9" fill="none" stroke="#e2e0a4" stroke-width="5" opacity="0.9"/><path d="M419.0,106.2 Q468.5,126.0 512,149.0" fill="none" stroke="#8a884c" stroke-width="7.4" opacity="0.6"/><path d="M419.0,106.2 Q468.5,126.0 512,149.0" fill="none" stroke="#e2e0a4" stroke-width="5" opacity="0.9"/><path d="M411.0,115.2 Q464.5,137.3 512,162.7" fill="none" stroke="#8a884c" stroke-width="7.4" opacity="0.6"/><path d="M411.0,115.2 Q464.5,137.3 512,162.7" fill="none" stroke="#e2e0a4" stroke-width="5" opacity="0.9"/><path d="M405.0,125.2 Q461.5,148.2 512,174.5" fill="none" stroke="#8a884c" stroke-width="7.4" opacity="0.6"/><path d="M405.0,125.2 Q461.5,148.2 512,174.5" fill="none" stroke="#e2e0a4" stroke-width="5" opacity="0.9"/><path d="M402.0,135.5 Q460.0,156.8 512,181.7" fill="none" stroke="#8a884c" stroke-width="7.4" opacity="0.6"/><path d="M402.0,135.5 Q460.0,156.8 512,181.7" fill="none" stroke="#e2e0a4" stroke-width="5" opacity="0.9"/><path d="M400.0,146.0 Q459.0,163.0 512,184.0" fill="none" stroke="#8a884c" stroke-width="7.4" opacity="0.6"/><path d="M400.0,146.0 Q459.0,163.0 512,184.0" fill="none" stroke="#e2e0a4" stroke-width="5" opacity="0.9"/><path d="M401.0,191.3 Q459.5,172.4 512,166.9" fill="none" stroke="#8a884c" stroke-width="7.4" opacity="0.6"/><path d="M401.0,191.3 Q459.5,172.4 512,166.9" fill="none" stroke="#e2e0a4" stroke-width="5" opacity="0.9"/><path d="M405.0,200.8 Q461.5,177.8 512,168.7" fill="none" stroke="#8a884c" stroke-width="7.4" opacity="0.6"/><path d="M405.0,200.8 Q461.5,177.8 512,168.7" fill="none" stroke="#e2e0a4" stroke-width="5" opacity="0.9"/><path d="M412.0,209.4 Q465.0,182.2 512,169.4" fill="none" stroke="#8a884c" stroke-width="7.4" opacity="0.6"/><path d="M412.0,209.4 Q465.0,182.2 512,169.4" fill="none" stroke="#e2e0a4" stroke-width="5" opacity="0.9"/><path d="M420.0,217.0 Q469.0,186.5 512,171.0" fill="none" stroke="#8a884c" stroke-width="7.4" opacity="0.6"/><path d="M420.0,217.0 Q469.0,186.5 512,171.0" fill="none" stroke="#e2e0a4" stroke-width="5" opacity="0.9"/><path d="M430.0,223.6 Q474.0,191.2 512,174.4" fill="none" stroke="#8a884c" stroke-width="7.4" opacity="0.6"/><path d="M430.0,223.6 Q474.0,191.2 512,174.4" fill="none" stroke="#e2e0a4" stroke-width="5" opacity="0.9"/><path d="M441.0,229.1 Q479.5,196.9 512,180.8" fill="none" stroke="#8a884c" stroke-width="7.4" opacity="0.6"/><path d="M441.0,229.1 Q479.5,196.9 512,180.8" fill="none" stroke="#e2e0a4" stroke-width="5" opacity="0.9"/><path d="M453.0,234.5 Q485.5,204.1 512,190.2" fill="none" stroke="#8a884c" stroke-width="7.4" opacity="0.6"/><path d="M453.0,234.5 Q485.5,204.1 512,190.2" fill="none" stroke="#e2e0a4" stroke-width="5" opacity="0.9"/><path d="M466.0,239.8 Q492.0,213.0 512,203.0" fill="none" stroke="#8a884c" stroke-width="7.4" opacity="0.6"/><path d="M466.0,239.8 Q492.0,213.0 512,203.0" fill="none" stroke="#e2e0a4" stroke-width="5" opacity="0.9"/><path d="M480.0,245.1 Q499.0,222.9 512,217.9" fill="none" stroke="#8a884c" stroke-width="7.4" opacity="0.6"/><path d="M480.0,245.1 Q499.0,222.9 512,217.9" fill="none" stroke="#e2e0a4" stroke-width="5" opacity="0.9"/><path d="M493.0,249.4 Q505.5,232.2 512,232.3" fill="none" stroke="#8a884c" stroke-width="7.4" opacity="0.6"/><path d="M493.0,249.4 Q505.5,232.2 512,232.3" fill="none" stroke="#e2e0a4" stroke-width="5" opacity="0.9"/><defs><linearGradient id="domeShade" x1="440" y1="0" x2="506" y2="0" gradientUnits="userSpaceOnUse"><stop offset="0" stop-color="#6a6840" stop-opacity="0"/><stop offset="1" stop-color="#6a6840" stop-opacity="0.2"/></linearGradient></defs><path d="M506,73.5 C498,74 492,75.5 486.7,77 C481,78.5 477,80 472.4,81.7 C467,84 463,86.5 459.7,89.7 C455,93 451,96.5 447,100 C441,105 432,111 425,117.5 C418,124 412.5,132 409.5,141 C407,149 405.6,157 405.7,163 C408,176 410,184 413.5,192 C418,201 424,207 431,212.5 C442,221 456,228 470,233 C482,237.5 494,241 506,242.5 Z" fill="url(#domeShade)"/><path d="M410,108 Q450,120 500,150" fill="none" stroke="#7a7c98" stroke-width="1.4" opacity="0.9"/><path d="M431,108.6 Q455,118 470,129.5" fill="none" stroke="#e0a838" stroke-width="1.6" opacity="0.8"/><path d="M405,128 Q440,140 500,160" fill="none" stroke="#7a7c98" stroke-width="1.2" opacity="0.7"/><defs><radialGradient id="sph" cx="438" cy="156" r="24" gradientUnits="userSpaceOnUse"><stop offset="0" stop-color="#f6f66a"/><stop offset="0.8" stop-color="#e6e440"/><stop offset="1" stop-color="#d4d238"/></radialGradient></defs><circle cx="444" cy="162" r="21" fill="url(#sph)" opacity="0.85"/><path d="M402,170 C430,166 470,165 510,163" fill="none" stroke="#a4a276" stroke-width="6" opacity="0.7"/><path d="M402,170 C430,166 470,165 510,163" fill="none" stroke="#dcdaa4" stroke-width="3" opacity="0.8"/><path d="M404,187.8 C440,186 475,183 510,180" fill="none" stroke="#707078" stroke-width="5" opacity="0.85"/><path d="M404,187.8 C440,186 475,183 510,180" fill="none" stroke="#b4b4b8" stroke-width="2" opacity="0.85"/><path d="M455,224.6 C475,222 492,218 510,213" fill="none" stroke="#707078" stroke-width="5" opacity="0.85"/><path d="M455,224.6 C475,222 492,218 510,213" fill="none" stroke="#b4b4b8" stroke-width="2" opacity="0.85"/><path d="M478,236 C490,238 500,239 510,238.5" fill="none" stroke="#707078" stroke-width="5" opacity="0.85"/><path d="M478,236 C490,238 500,239 510,238.5" fill="none" stroke="#b4b4b8" stroke-width="2" opacity="0.85"/><path d="M506,73.5 C498,74 492,75.5 486.7,77 C481,78.5 477,80 472.4,81.7 C467,84 463,86.5 459.7,89.7 C455,93 451,96.5 447,100 C441,105 432,111 425,117.5 C418,124 412.5,132 409.5,141 C407,149 405.6,157 405.7,163 C408,176 410,184 413.5,192 C418,201 424,207 431,212.5 C442,221 456,228 470,233 C482,237.5 494,241 506,242.5" fill="none" stroke="#ecea78" stroke-width="16" opacity="0.55"/><path d="M506,73.5 C498,74 492,75.5 486.7,77 C481,78.5 477,80 472.4,81.7 C467,84 463,86.5 459.7,89.7 C455,93 451,96.5 447,100 C441,105 432,111 425,117.5 C418,124 412.5,132 409.5,141 C407,149 405.6,157 405.7,163 C408,176 410,184 413.5,192 C418,201 424,207 431,212.5 C442,221 456,228 470,233 C482,237.5 494,241 506,242.5" fill="none" stroke="#f0ee88" stroke-width="7" opacity="0.5"/></g><path d="M506,73.5 C498,74 492,75.5 486.7,77 C481,78.5 477,80 472.4,81.7 C467,84 463,86.5 459.7,89.7 C455,93 451,96.5 447,100 C441,105 432,111 425,117.5 C418,124 412.5,132 409.5,141 C407,149 405.6,157 405.7,163 C408,176 410,184 413.5,192 C418,201 424,207 431,212.5 C442,221 456,228 470,233 C482,237.5 494,241 506,242.5" fill="none" stroke="#c4c070" stroke-width="0.8"/>
<path d="M319,1.9 C325.2,4.2 342.9,10.8 356,15.6 C369.1,20.4 383.3,24.9 397.4,30.5 C411.5,36.1 429.2,44.6 440.6,49.5 C452.0,54.4 458.4,57.1 466,60 C473.6,62.9 479.0,65.1 486,66.6 C493.0,68.1 504.3,68.8 508,69.2" fill="none" stroke="#6a0505" stroke-width="2.6" stroke-linecap="butt" stroke-linejoin="round" opacity="1.0"/><path d="M319,1.9 C325.2,4.2 342.9,10.8 356,15.6 C369.1,20.4 383.3,24.9 397.4,30.5 C411.5,36.1 429.2,44.6 440.6,49.5 C452.0,54.4 458.4,57.1 466,60 C473.6,62.9 479.0,65.1 486,66.6 C493.0,68.1 504.3,68.8 508,69.2" fill="none" stroke="#b01212" stroke-width="1.43" stroke-linecap="butt" stroke-linejoin="round" opacity="1.0"/>
<path d="M318.6,22.1 C326.3,24.6 348.1,30.6 365,37.2 C381.9,43.8 405.6,56.7 420,61.9 C434.4,67.1 441.1,67.6 451.7,68.3 C462.3,69.0 474.1,66.1 483.5,65.9 C492.9,65.7 503.9,66.7 508,66.9" fill="none" stroke="#6a0505" stroke-width="2.6" stroke-linecap="butt" stroke-linejoin="round" opacity="1.0"/><path d="M318.6,22.1 C326.3,24.6 348.1,30.6 365,37.2 C381.9,43.8 405.6,56.7 420,61.9 C434.4,67.1 441.1,67.6 451.7,68.3 C462.3,69.0 474.1,66.1 483.5,65.9 C492.9,65.7 503.9,66.7 508,66.9" fill="none" stroke="#b01212" stroke-width="1.43" stroke-linecap="butt" stroke-linejoin="round" opacity="1.0"/>
<path d="M318.6,27.2 C326.3,29.9 348.1,36.4 365,43.3 C381.9,50.2 405.6,63.2 420,68.5 C434.4,73.8 441.1,74.8 451.7,75.1 C462.3,75.4 474.1,70.9 483.5,70.3 C492.9,69.7 503.9,71.4 508,71.6" fill="none" stroke="#6a0505" stroke-width="2.6" stroke-linecap="butt" stroke-linejoin="round" opacity="1.0"/><path d="M318.6,27.2 C326.3,29.9 348.1,36.4 365,43.3 C381.9,50.2 405.6,63.2 420,68.5 C434.4,73.8 441.1,74.8 451.7,75.1 C462.3,75.4 474.1,70.9 483.5,70.3 C492.9,69.7 503.9,71.4 508,71.6" fill="none" stroke="#b01212" stroke-width="1.43" stroke-linecap="butt" stroke-linejoin="round" opacity="1.0"/>
<path d="M318.6,29.7 C326.3,32.4 348.1,38.6 365,45.6 C381.9,52.6 405.6,66.0 420,71.4 C434.4,76.8 440.6,77.5 451.7,77.8 C462.8,78.1 477.3,73.4 486.7,73 C496.1,72.6 504.4,75.2 508,75.6" fill="none" stroke="#6a0505" stroke-width="2.6" stroke-linecap="butt" stroke-linejoin="round" opacity="1.0"/><path d="M318.6,29.7 C326.3,32.4 348.1,38.6 365,45.6 C381.9,52.6 405.6,66.0 420,71.4 C434.4,76.8 440.6,77.5 451.7,77.8 C462.8,78.1 477.3,73.4 486.7,73 C496.1,72.6 504.4,75.2 508,75.6" fill="none" stroke="#b01212" stroke-width="1.43" stroke-linecap="butt" stroke-linejoin="round" opacity="1.0"/>
<path d="M318.6,32.3 C326.3,34.9 348.1,40.6 365,47.8 C381.9,55.0 405.5,70.0 420,75.5 C434.5,81.0 441.5,80.2 452,80.5 C462.5,80.8 473.7,77.2 483,77 C492.3,76.8 503.8,78.7 508,79" fill="none" stroke="#6a0505" stroke-width="2.6" stroke-linecap="butt" stroke-linejoin="round" opacity="1.0"/><path d="M318.6,32.3 C326.3,34.9 348.1,40.6 365,47.8 C381.9,55.0 405.5,70.0 420,75.5 C434.5,81.0 441.5,80.2 452,80.5 C462.5,80.8 473.7,77.2 483,77 C492.3,76.8 503.8,78.7 508,79" fill="none" stroke="#b01212" stroke-width="1.43" stroke-linecap="butt" stroke-linejoin="round" opacity="1.0"/>
<path d="M318.6,35.8 C326.3,38.4 348.1,44.6 365,51.7 C381.9,58.8 405.6,73.5 420,78.6 C434.4,83.7 441.1,82.5 451.7,82.5 C462.3,82.5 474.1,78.6 483.5,78.5 C492.9,78.4 503.9,81.4 508,82" fill="none" stroke="#6a0505" stroke-width="2.6" stroke-linecap="butt" stroke-linejoin="round" opacity="1.0"/><path d="M318.6,35.8 C326.3,38.4 348.1,44.6 365,51.7 C381.9,58.8 405.6,73.5 420,78.6 C434.4,83.7 441.1,82.5 451.7,82.5 C462.3,82.5 474.1,78.6 483.5,78.5 C492.9,78.4 503.9,81.4 508,82" fill="none" stroke="#b01212" stroke-width="1.43" stroke-linecap="butt" stroke-linejoin="round" opacity="1.0"/>
<path d="M318.6,42.1 C326.3,44.7 348.1,50.5 365,57.8 C381.9,65.1 405.6,80.8 420,85.7 C434.4,90.6 441.1,86.5 451.7,87 C462.3,87.5 474.1,87.3 483.5,88.9 C492.9,90.5 503.9,95.2 508,96.5" fill="none" stroke="#6a0505" stroke-width="2.6" stroke-linecap="butt" stroke-linejoin="round" opacity="1.0"/><path d="M318.6,42.1 C326.3,44.7 348.1,50.5 365,57.8 C381.9,65.1 405.6,80.8 420,85.7 C434.4,90.6 441.1,86.5 451.7,87 C462.3,87.5 474.1,87.3 483.5,88.9 C492.9,90.5 503.9,95.2 508,96.5" fill="none" stroke="#b01212" stroke-width="1.43" stroke-linecap="butt" stroke-linejoin="round" opacity="1.0"/>
<path d="M318.6,51.6 C326.3,54.7 350.6,63.8 365,70 C379.4,76.2 393.9,83.5 405,89 C416.1,94.5 420.6,99.0 431.4,103 C442.2,107.0 460.2,110.0 470,113 C479.8,116.0 483.7,117.5 490,121 C496.3,124.5 505.0,131.8 508,134" fill="none" stroke="#6a0505" stroke-width="2.6" stroke-linecap="butt" stroke-linejoin="round" opacity="1.0"/><path d="M318.6,51.6 C326.3,54.7 350.6,63.8 365,70 C379.4,76.2 393.9,83.5 405,89 C416.1,94.5 420.6,99.0 431.4,103 C442.2,107.0 460.2,110.0 470,113 C479.8,116.0 483.7,117.5 490,121 C496.3,124.5 505.0,131.8 508,134" fill="none" stroke="#b01212" stroke-width="1.43" stroke-linecap="butt" stroke-linejoin="round" opacity="1.0"/>
<path d="M318.6,53.3 C326.3,56.3 351.4,65.8 365,71.6 C378.6,77.4 388.7,82.1 400,88 C411.3,93.9 427.5,103.8 433,107" fill="none" stroke="#6a0505" stroke-width="2.6" stroke-linecap="butt" stroke-linejoin="round" opacity="1.0"/><path d="M318.6,53.3 C326.3,56.3 351.4,65.8 365,71.6 C378.6,77.4 388.7,82.1 400,88 C411.3,93.9 427.5,103.8 433,107" fill="none" stroke="#b01212" stroke-width="1.43" stroke-linecap="butt" stroke-linejoin="round" opacity="1.0"/>
<path d="M318.6,55 C326.3,58.1 352.3,67.7 365,73.5 C377.7,79.3 384.3,83.9 395,90 C405.7,96.1 423.3,106.7 429,110" fill="none" stroke="#6a0505" stroke-width="2.6" stroke-linecap="butt" stroke-linejoin="round" opacity="1.0"/><path d="M318.6,55 C326.3,58.1 352.3,67.7 365,73.5 C377.7,79.3 384.3,83.9 395,90 C405.7,96.1 423.3,106.7 429,110" fill="none" stroke="#b01212" stroke-width="1.43" stroke-linecap="butt" stroke-linejoin="round" opacity="1.0"/>
<path d="M318.6,60.7 C326.3,63.6 352.3,71.6 365,77.8 C377.7,84.0 386.0,91.1 395,98 C404.0,104.9 415.0,115.8 419,119.3" fill="none" stroke="#6a0505" stroke-width="2.6" stroke-linecap="butt" stroke-linejoin="round" opacity="1.0"/><path d="M318.6,60.7 C326.3,63.6 352.3,71.6 365,77.8 C377.7,84.0 386.0,91.1 395,98 C404.0,104.9 415.0,115.8 419,119.3" fill="none" stroke="#b01212" stroke-width="1.43" stroke-linecap="butt" stroke-linejoin="round" opacity="1.0"/>
<path d="M318.6,72.9 C326.3,75.9 353.1,85.3 365,91.1 C376.9,96.9 382.2,101.4 390,107.5 C397.8,113.6 407.9,124.2 411.5,127.5" fill="none" stroke="#6a0505" stroke-width="2.6" stroke-linecap="butt" stroke-linejoin="round" opacity="1.0"/><path d="M318.6,72.9 C326.3,75.9 353.1,85.3 365,91.1 C376.9,96.9 382.2,101.4 390,107.5 C397.8,113.6 407.9,124.2 411.5,127.5" fill="none" stroke="#b01212" stroke-width="1.43" stroke-linecap="butt" stroke-linejoin="round" opacity="1.0"/>
<path d="M404,181.5 C430,179 460,177.5 480,176.5 C492,175.5 500,174.5 508,173.8" fill="none" stroke="#6a0505" stroke-width="3.0" stroke-linecap="butt" stroke-linejoin="round" opacity="1.0"/><path d="M404,181.5 C430,179 460,177.5 480,176.5 C492,175.5 500,174.5 508,173.8" fill="none" stroke="#b01212" stroke-width="1.65" stroke-linecap="butt" stroke-linejoin="round" opacity="1.0"/>
<path d="M446,218 C452,221 460,224 470,221 C482,217 495,209 508,204" fill="none" stroke="#6a0505" stroke-width="3.0" stroke-linecap="butt" stroke-linejoin="round" opacity="1.0"/><path d="M446,218 C452,221 460,224 470,221 C482,217 495,209 508,204" fill="none" stroke="#b01212" stroke-width="1.65" stroke-linecap="butt" stroke-linejoin="round" opacity="1.0"/>
<path d="M474,233 C480,237 488,239 495,236 C500,233 504,231 508,229.6" fill="none" stroke="#6a0505" stroke-width="3.0" stroke-linecap="butt" stroke-linejoin="round" opacity="1.0"/><path d="M474,233 C480,237 488,239 495,236 C500,233 504,231 508,229.6" fill="none" stroke="#b01212" stroke-width="1.65" stroke-linecap="butt" stroke-linejoin="round" opacity="1.0"/>
<path d="M478,90 C488,93 498,97 508,101" fill="none" stroke="#6a0505" stroke-width="3.0" stroke-linecap="butt" stroke-linejoin="round" opacity="1.0"/><path d="M478,90 C488,93 498,97 508,101" fill="none" stroke="#b01212" stroke-width="1.65" stroke-linecap="butt" stroke-linejoin="round" opacity="1.0"/>
<defs><clipPath id="clipP"><rect x="505.2" y="1" width="116.8" height="276.3"/></clipPath></defs>
<g clip-path="url(#clipP)" opacity="0.82"><g filter="url(#soft)">
<rect x="500" y="0" width="125" height="280" fill="#0008d7"/>
<path fill="#0019f5" fill-rule="evenodd" d="M505.0,1.0 505.0,277.5 622.5,277.5 622.5,1.0Z"/>
<path fill="#003aff" fill-rule="evenodd" d="M505.0,1.0 505.0,277.5 622.5,277.5 622.5,1.0Z"/>
<path fill="#0062ff" fill-rule="evenodd" d="M505.0,1.0 505.0,277.5 622.5,277.5 622.5,1.0Z"/>
<path fill="#008aff" fill-rule="evenodd" d="M505.0,1.0 505.0,277.5 622.5,277.5 622.5,1.0Z"/>
<path fill="#00adff" fill-rule="evenodd" d="M505.0,1.0 505.0,277.5 622.5,277.5 622.5,1.0Z"/>
<path fill="#00ceff" fill-rule="evenodd" d="M505.0,1.0 505.0,277.5 622.5,277.5 622.5,1.0Z"/>
<path fill="#00f0ff" fill-rule="evenodd" d="M505.0,1.0 505.0,277.5 622.5,277.5 622.5,1.0Z"/>
<path fill="#00f6df" fill-rule="evenodd" d="M505.0,1.0 505.0,277.5 622.5,277.5 622.5,1.0Z"/>
<path fill="#00fcc0" fill-rule="evenodd" d="M566.5,79.0 567.5,80.0 567.5,105.5 565.5,128.5 565.0,146.0 564.0,151.5 563.0,152.0 562.0,149.5 562.0,139.0 563.5,122.0 565.0,87.5ZM505.0,1.0 505.0,277.5 622.5,277.5 622.5,1.0Z"/>
<path fill="#00fd99" fill-rule="evenodd" d="M567.5,63.5 569.0,66.0 570.0,77.5 569.5,104.0 567.5,128.5 566.5,153.5 564.5,165.5 562.5,169.0 561.0,167.0 560.0,160.0 560.0,141.0 563.0,99.0 563.5,79.0 565.5,67.0ZM505.0,1.0 505.0,277.5 622.5,277.5 622.5,1.0Z"/>
<path fill="#00fc6c" fill-rule="evenodd" d="M568.0,53.5 570.0,57.0 571.0,63.5 571.0,102.0 569.0,126.5 567.5,159.5 565.0,176.5 564.0,179.5 562.5,181.0 560.5,178.5 559.0,172.0 558.5,144.0 561.5,102.5 562.5,76.0 565.0,59.0 566.5,54.5ZM505.0,1.0 505.0,277.5 622.5,277.5 622.5,1.0Z"/>
<path fill="#00fa40" fill-rule="evenodd" d="M568.5,45.0 570.0,47.0 571.0,50.5 572.5,62.5 572.5,98.0 570.0,133.0 569.5,153.5 567.5,176.0 565.5,188.5 564.5,191.0 562.5,192.5 561.0,191.5 559.5,188.5 557.5,177.0 557.0,147.5 562.0,69.5 565.0,50.5 566.5,46.5ZM505.0,1.0 505.0,277.5 622.5,277.5 622.5,1.0Z"/>
<path fill="#0ff825" fill-rule="evenodd" d="M569.5,35.5 571.5,41.0 573.5,55.5 574.0,94.5 568.5,190.5 566.0,202.5 564.0,205.0 563.0,205.0 561.0,203.0 559.0,199.0 556.5,190.0 555.5,179.0 555.5,147.5 560.5,71.5 564.0,47.0 567.0,37.0 568.5,35.5ZM505.0,1.0 505.0,277.5 622.5,277.5 622.5,1.0Z"/>
<path fill="#1ff60c" fill-rule="evenodd" d="M505.0,1.0 505.0,277.5 561.5,277.5 561.5,229.0 553.5,190.0 553.5,149.0 557.5,99.5 558.0,79.5 565.0,33.0 569.0,15.0 570.5,13.0 572.0,18.0 575.5,61.5 575.5,100.5 573.5,130.0 573.0,155.0 571.5,171.5 571.0,200.5 569.0,224.0 569.0,257.0 568.0,277.5 622.5,277.5 622.5,1.0Z"/>
<path fill="#3af600" fill-rule="evenodd" d="M574.5,1.0 575.5,42.0 577.0,59.0 577.0,111.5 575.5,138.0 575.5,155.0 574.5,164.0 574.0,255.5 573.0,277.5 622.5,277.5 622.5,1.0ZM505.0,1.0 505.0,277.5 556.0,277.5 556.5,231.0 554.5,214.0 550.0,191.0 550.0,165.0 551.0,144.5 553.0,128.5 555.0,101.5 556.0,78.5 563.0,37.0 566.0,11.5 566.5,1.0Z"/>
<path fill="#60f900" fill-rule="evenodd" d="M576.5,1.0 577.0,32.0 579.0,75.5 579.0,120.0 577.5,162.5 578.0,245.0 577.0,277.5 622.5,277.5 622.5,1.0ZM505.0,1.0 505.0,277.5 551.5,277.5 552.0,230.0 549.5,209.0 545.5,187.5 546.0,164.0 547.5,139.0 550.0,118.5 552.0,78.5 556.5,63.5 561.0,39.5 564.0,1.0Z"/>
<path fill="#85fb00" fill-rule="evenodd" d="M578.5,1.0 578.5,28.5 581.0,100.5 581.0,277.5 622.5,277.5 622.5,1.0ZM505.0,1.0 505.0,277.5 546.0,277.5 546.5,230.5 544.0,208.0 541.0,195.0 540.0,186.5 541.5,145.5 544.5,119.5 545.5,78.5 549.0,66.0 554.5,54.5 558.5,40.5 561.5,1.0Z"/>
<path fill="#a3fb00" fill-rule="evenodd" d="M529.0,263.5 526.5,260.5 524.0,260.5 516.0,263.5 505.0,263.5 505.0,277.5 532.0,277.5 531.5,270.5ZM505.0,222.5 510.0,221.5 512.0,219.5 512.0,217.5 509.0,216.5 505.0,216.5ZM505.0,39.0 505.0,92.5 518.0,92.0 521.0,93.5 519.5,97.0 516.0,101.0 509.5,104.0 505.0,104.5 505.0,122.5 508.5,123.0 512.0,125.0 517.5,131.0 519.0,136.0 517.0,145.0 513.5,153.0 509.5,158.0 505.0,160.0 505.0,175.0 507.5,175.0 517.5,179.0 522.5,179.0 524.5,177.5 527.0,173.0 529.0,166.0 530.0,158.5 529.0,148.5 524.5,137.0 524.0,133.0 530.0,119.0 531.0,114.0 531.0,105.5 528.5,97.5 525.5,94.5 521.5,92.5 523.5,78.0 527.0,67.0 527.0,61.0 526.0,58.5 515.0,49.0 506.5,39.5ZM579.5,1.0 580.0,44.0 581.0,57.0 582.5,109.5 583.0,175.5 585.5,234.0 585.5,277.5 622.5,277.5 622.5,1.0ZM513.5,1.0 514.5,5.0 520.5,11.5 525.5,14.5 527.0,14.5 528.0,13.5 529.0,9.5 529.0,1.0Z"/>
<path fill="#c2fa00" fill-rule="evenodd" d="M580.5,1.0 581.0,47.0 582.0,59.0 586.0,171.0 588.0,191.0 590.5,206.5 592.0,227.5 592.0,277.5 602.0,277.5 602.0,255.0 601.0,239.5 602.0,220.5 601.5,148.0 596.5,105.0 598.0,59.0 599.0,51.5 599.0,1.0Z"/>
<path fill="#daf700" fill-rule="evenodd" d="M596.0,1.0 581.5,1.0 581.5,38.5 583.5,86.0 586.0,122.5 587.0,128.5 588.0,130.0 589.0,128.0 590.5,119.0 591.5,98.5 593.5,86.0 594.5,64.0 596.0,51.5Z"/>
<path fill="#ecf100" fill-rule="evenodd" d="M593.5,1.0 582.0,1.0 582.5,48.5 584.5,84.0 585.5,93.5 587.0,99.5 588.0,98.0 590.0,86.5 591.5,66.0 593.5,51.5Z"/>
<path fill="#ffeb00" fill-rule="evenodd" d="M591.5,1.0 582.5,1.0 582.5,29.5 583.5,54.0 585.5,78.5 587.0,83.5 588.5,77.5 591.5,50.0Z"/>
<path fill="#ffcb00" fill-rule="evenodd" d="M583.0,1.0 583.0,28.0 584.0,50.5 585.5,64.5 587.0,68.5 590.0,49.0 590.5,1.0Z"/>
<path fill="#ffac00" fill-rule="evenodd" d="M583.5,1.0 583.5,26.5 584.5,46.0 586.0,57.0 587.0,57.5 589.0,43.5 589.5,1.0Z"/>
<path fill="#ff8c00" fill-rule="evenodd" d="M584.0,1.0 584.0,25.0 585.0,40.0 586.5,48.5 587.5,45.0 588.5,32.0 588.5,1.0Z"/>
<path fill="#ff6a00" fill-rule="evenodd" d="M588.0,1.0 585.0,1.0 585.0,29.0 586.5,36.0 588.0,24.5Z"/>
</g></g>
<path d="M505,78 C518,80 532,92 540,115 C548,140 546,190 535,215 C528,232 515,241 505,243 Z" fill="#e4ec70" opacity="0.35"/>
<path d="M505,79 C520,82 535,86 543.8,90 C552,95 558,102 562,108.4" fill="none" stroke="#6e3a0c" stroke-width="3" opacity="0.4"/>
<path d="M505,119 C515,120 523,121 529,123 C542,130 555,150 562,166.8" fill="none" stroke="#6e3a0c" stroke-width="3" opacity="0.4"/>
<path d="M505,137.6 C518,142 528,147 536.5,152 C548,162 556,178 562,192" fill="none" stroke="#6e3a0c" stroke-width="3" opacity="0.4"/>
<path d="M506,172.7 C515,169 524,167 531.7,166.3 C542,165 552,164 560.3,163.2" fill="none" stroke="#6e3a0c" stroke-width="3" opacity="0.4"/>
<path d="M503,201 C510,197 518,194 525.4,191.7 C537,188 549,185 560.3,182.2" fill="none" stroke="#6e3a0c" stroke-width="3" opacity="0.4"/>
<path d="M505,69 C520,72 540,82 552,92 C558,98 561,104 563,110" fill="none" stroke="#6e3a0c" stroke-width="3" opacity="0.4"/>
<path d="M505,94 C520,105 530,130 533,159.5 C535,180 530,200 520,215" fill="none" stroke="#6a8a10" stroke-width="4.4" opacity="0.4"/>
<path d="M505,94 C520,105 530,130 533,159.5 C535,180 530,200 520,215" fill="none" stroke="#b0c020" stroke-width="2.4" opacity="0.35"/>
<path d="M512,70 C525,65 540,68 548,78 C554,86 552,96 545,100" fill="none" stroke="#6a8a10" stroke-width="4.4" opacity="0.4"/>
<path d="M512,70 C525,65 540,68 548,78 C554,86 552,96 545,100" fill="none" stroke="#b0c020" stroke-width="2.4" opacity="0.35"/>
<path d="M505,150 C520,150 540,140 555,130" fill="none" stroke="#6a8a10" stroke-width="4.4" opacity="0.4"/>
<path d="M505,150 C520,150 540,140 555,130" fill="none" stroke="#b0c020" stroke-width="2.4" opacity="0.35"/>
<path d="M500,223.5 C504,230 508,236 512.7,239.4 C519,243 525,244.5 531.7,244.1 C538,243.5 543,240 547.6,236.2 C552,232 556.5,228 560.3,223.5" fill="none" stroke="#6a8a10" stroke-width="4.4" opacity="0.4"/>
<path d="M500,223.5 C504,230 508,236 512.7,239.4 C519,243 525,244.5 531.7,244.1 C538,243.5 543,240 547.6,236.2 C552,232 556.5,228 560.3,223.5" fill="none" stroke="#b0c020" stroke-width="2.4" opacity="0.35"/>
<path d="M509.5,191.7 C512,199 515,205 519,210.8 C524,217 531,221 538,223.5" fill="none" stroke="#6a8a10" stroke-width="4.4" opacity="0.4"/>
<path d="M509.5,191.7 C512,199 515,205 519,210.8 C524,217 531,221 538,223.5" fill="none" stroke="#b0c020" stroke-width="2.4" opacity="0.35"/>
<path d="M522,204.4 C527,200 532,197 538,195 C545,192 553,190 560.3,188.6" fill="none" stroke="#6a8a10" stroke-width="4.4" opacity="0.4"/>
<path d="M522,204.4 C527,200 532,197 538,195 C545,192 553,190 560.3,188.6" fill="none" stroke="#b0c020" stroke-width="2.4" opacity="0.35"/>
<path d="M520,100 C535,105 550,115 560,133" fill="none" stroke="#6a8a10" stroke-width="4.4" opacity="0.4"/>
<path d="M520,100 C535,105 550,115 560,133" fill="none" stroke="#b0c020" stroke-width="2.4" opacity="0.35"/>
<path d="M571.1,64.6 C572.8,67 574,71 574.1,75.3 C575,80 575.4,84 575.4,88 C575.4,95 575.2,100 574.9,106 C574,116 573,126 572.3,135 C572,150 572,160 572,170 C572.2,180 572.4,190 572.4,200 C572.2,215 571.8,225 571.2,236 C570.5,245 569.8,253 568.8,259.5 C568,262 567,263.5 566,263 C564.8,262 564,260 563.6,257 C562.8,250 562.2,243 561.7,236 C561,225 560.6,212 560.5,200 C560.6,190 561,180 561.5,170 C562,160 562.6,150 563,140 C563.5,125 564.2,115 564.7,106 C565,99 565.3,93 565.7,88 C566.2,83 566.7,79 567.3,75.3 C568,71 569.5,67 571.1,64.6 Z" fill="#2448f4" stroke="#0c0c50" stroke-width="0.9"/>
<path d="M570,80 C570,120 567,180 566,250" fill="none" stroke="#6a88ff" stroke-width="1.6" opacity="0.7"/>
<path d="M566,114 C561,101 562,86 570,79.5 C577,75.5 582.5,86 581,97 C580,104 575,108 570,106.5 C566,105 563,99 565,92" fill="none" stroke="#7e0404" stroke-width="3.0" stroke-linecap="butt" stroke-linejoin="round" opacity="1.0"/><path d="M566,114 C561,101 562,86 570,79.5 C577,75.5 582.5,86 581,97 C580,104 575,108 570,106.5 C566,105 563,99 565,92" fill="none" stroke="#c41010" stroke-width="1.65" stroke-linecap="butt" stroke-linejoin="round" opacity="1.0"/>
<path d="M568.5,116 C564,104 565,91 572,85 C578,81 582,90 580.6,100 C579.5,106 575,110 571,110.5" fill="none" stroke="#7e0404" stroke-width="3.0" stroke-linecap="butt" stroke-linejoin="round" opacity="1.0"/><path d="M568.5,116 C564,104 565,91 572,85 C578,81 582,90 580.6,100 C579.5,106 575,110 571,110.5" fill="none" stroke="#c41010" stroke-width="1.65" stroke-linecap="butt" stroke-linejoin="round" opacity="1.0"/>
<path d="M571,110.5 C570.5,118 570,126 570,134" fill="none" stroke="#7e0404" stroke-width="3.0" stroke-linecap="butt" stroke-linejoin="round" opacity="1.0"/><path d="M571,110.5 C570.5,118 570,126 570,134" fill="none" stroke="#c41010" stroke-width="1.65" stroke-linecap="butt" stroke-linejoin="round" opacity="1.0"/>
<path d="M570,133.9 C574,137 578,140 582.2,142.8 C587,146 592,148.5 597.8,150.6 C603,152.5 608,154 613.3,155 C618,156 623,157.3 628,158.3" fill="none" stroke="#7e0404" stroke-width="3.0" stroke-linecap="butt" stroke-linejoin="round" opacity="1.0"/><path d="M570,133.9 C574,137 578,140 582.2,142.8 C587,146 592,148.5 597.8,150.6 C603,152.5 608,154 613.3,155 C618,156 623,157.3 628,158.3" fill="none" stroke="#c41010" stroke-width="1.65" stroke-linecap="butt" stroke-linejoin="round" opacity="1.0"/>
<path d="M564.4,129.4 C565,135 565.2,141 565.6,147.2 C566.5,152 567.5,155.5 568.9,158.3 C571.5,161 574.5,163.5 577.8,165 C583,167 588,168.5 593.3,169.4 C598.5,170.5 603.5,171.5 608.9,172.8 C613,174 617,176 620,178.3 C623,180.5 625,182.5 626.7,183.9 C628,186 629,188 630,189.4" fill="none" stroke="#7e0404" stroke-width="3.0" stroke-linecap="butt" stroke-linejoin="round" opacity="1.0"/><path d="M564.4,129.4 C565,135 565.2,141 565.6,147.2 C566.5,152 567.5,155.5 568.9,158.3 C571.5,161 574.5,163.5 577.8,165 C583,167 588,168.5 593.3,169.4 C598.5,170.5 603.5,171.5 608.9,172.8 C613,174 617,176 620,178.3 C623,180.5 625,182.5 626.7,183.9 C628,186 629,188 630,189.4" fill="none" stroke="#c41010" stroke-width="1.65" stroke-linecap="butt" stroke-linejoin="round" opacity="1.0"/>
<path d="M566.7,153.9 C569,157.5 572,161 575.6,163.9 C579.5,166 584,167.5 588.9,168.3 C594,169.3 599,170 604.4,170.6 C609,171.3 614,173 617.8,175 C621.5,177 624.5,179 626.7,180.6" fill="none" stroke="#7e0404" stroke-width="3.0" stroke-linecap="butt" stroke-linejoin="round" opacity="1.0"/><path d="M566.7,153.9 C569,157.5 572,161 575.6,163.9 C579.5,166 584,167.5 588.9,168.3 C594,169.3 599,170 604.4,170.6 C609,171.3 614,173 617.8,175 C621.5,177 624.5,179 626.7,180.6" fill="none" stroke="#c41010" stroke-width="1.65" stroke-linecap="butt" stroke-linejoin="round" opacity="1.0"/>
<path d="M560,171.7 C564.5,172.5 569,173.7 573.3,175 C578,176.2 582.5,177.3 586.7,178.3 C592.5,179.3 598.5,179.8 604.4,180.6 C609.5,181.6 614,183 617.8,185 C621.5,187.5 624.5,189.5 626.7,191.7" fill="none" stroke="#7e0404" stroke-width="3.0" stroke-linecap="butt" stroke-linejoin="round" opacity="1.0"/><path d="M560,171.7 C564.5,172.5 569,173.7 573.3,175 C578,176.2 582.5,177.3 586.7,178.3 C592.5,179.3 598.5,179.8 604.4,180.6 C609.5,181.6 614,183 617.8,185 C621.5,187.5 624.5,189.5 626.7,191.7" fill="none" stroke="#c41010" stroke-width="1.65" stroke-linecap="butt" stroke-linejoin="round" opacity="1.0"/>
<path d="M568.9,191.7 C571.5,188.5 574.5,185.5 577.8,182.8 C580.5,180.8 583.5,179.3 586.7,178.3 C590.5,177 594,176.3 597.8,176.1 C601.5,176 605.5,177 608.9,178.3" fill="none" stroke="#7e0404" stroke-width="3.0" stroke-linecap="butt" stroke-linejoin="round" opacity="1.0"/><path d="M568.9,191.7 C571.5,188.5 574.5,185.5 577.8,182.8 C580.5,180.8 583.5,179.3 586.7,178.3 C590.5,177 594,176.3 597.8,176.1 C601.5,176 605.5,177 608.9,178.3" fill="none" stroke="#c41010" stroke-width="1.65" stroke-linecap="butt" stroke-linejoin="round" opacity="1.0"/>
<path d="M577.8,186 C578.8,190 579.5,194 580.3,197.6 C581,200.5 582,203 582.8,205.2 C584.3,208 586,210.5 587.9,212.8 C590.3,215.5 592.8,217.5 595.5,219.2 C597,220 598,220.3 599.3,220.5 C601,221 602,221.3 601.9,221.7 C600.5,223.5 600.3,225 600.6,226.8 C601.2,228.2 601.9,229.4 601.9,230.6 C601,231.8 600,232.2 599.3,233.1 C599.5,234.5 600,235.8 600.6,237 C603,238 605.8,238.6 608.2,239.5 C610.5,240.6 612.6,241.8 614.6,243.3 C616.5,245 618.2,246.6 619.6,248.4 C620.8,250.5 621.8,252.6 622.2,254.7 C621.8,256 621.3,257.2 621,258.5 C621.8,259.6 622.6,260.4 623.5,261 C625.5,261.5 627.5,261.6 630,261.4" fill="none" stroke="#7e0404" stroke-width="3.0" stroke-linecap="butt" stroke-linejoin="round" opacity="1.0"/><path d="M577.8,186 C578.8,190 579.5,194 580.3,197.6 C581,200.5 582,203 582.8,205.2 C584.3,208 586,210.5 587.9,212.8 C590.3,215.5 592.8,217.5 595.5,219.2 C597,220 598,220.3 599.3,220.5 C601,221 602,221.3 601.9,221.7 C600.5,223.5 600.3,225 600.6,226.8 C601.2,228.2 601.9,229.4 601.9,230.6 C601,231.8 600,232.2 599.3,233.1 C599.5,234.5 600,235.8 600.6,237 C603,238 605.8,238.6 608.2,239.5 C610.5,240.6 612.6,241.8 614.6,243.3 C616.5,245 618.2,246.6 619.6,248.4 C620.8,250.5 621.8,252.6 622.2,254.7 C621.8,256 621.3,257.2 621,258.5 C621.8,259.6 622.6,260.4 623.5,261 C625.5,261.5 627.5,261.6 630,261.4" fill="none" stroke="#c41010" stroke-width="1.65" stroke-linecap="butt" stroke-linejoin="round" opacity="1.0"/>
<path d="M585.4,188 C590.5,191.5 595.5,195 600.6,197.6 C605.5,200.2 610.5,202.8 615.8,205.2 C620,207.2 624.5,209.5 630,211.6" fill="none" stroke="#7e0404" stroke-width="3.0" stroke-linecap="butt" stroke-linejoin="round" opacity="1.0"/><path d="M585.4,188 C590.5,191.5 595.5,195 600.6,197.6 C605.5,200.2 610.5,202.8 615.8,205.2 C620,207.2 624.5,209.5 630,211.6" fill="none" stroke="#c41010" stroke-width="1.65" stroke-linecap="butt" stroke-linejoin="round" opacity="1.0"/>
<path d="M593,188 C599,190.5 604.8,193 610.8,195 C616.8,196.8 622.5,198.5 630,200" fill="none" stroke="#7e0404" stroke-width="3.0" stroke-linecap="butt" stroke-linejoin="round" opacity="1.0"/><path d="M593,188 C599,190.5 604.8,193 610.8,195 C616.8,196.8 622.5,198.5 630,200" fill="none" stroke="#c41010" stroke-width="1.65" stroke-linecap="butt" stroke-linejoin="round" opacity="1.0"/>
<path d="M570,186 C570.3,190 570.2,195 570,200 C569.6,203.5 569.2,207 568.9,210.3 C568.8,213.7 568.8,217 568.9,220.5 C569.6,222.8 570.9,224.9 572.7,226.8" fill="none" stroke="#7e0404" stroke-width="3.0" stroke-linecap="butt" stroke-linejoin="round" opacity="1.0"/><path d="M570,186 C570.3,190 570.2,195 570,200 C569.6,203.5 569.2,207 568.9,210.3 C568.8,213.7 568.8,217 568.9,220.5 C569.6,222.8 570.9,224.9 572.7,226.8" fill="none" stroke="#c41010" stroke-width="1.65" stroke-linecap="butt" stroke-linejoin="round" opacity="1.0"/>
<path d="M570,238.2 C573.5,239.8 577,241.4 580.3,243.3 C583,245.5 585.5,248.3 587.9,251 C591,253.3 594.5,255.5 598,257.3 C602.3,258.5 606.5,259.3 610.8,259.8 C615,260.1 619.3,260.1 623.5,259.8 C625.8,259.5 627.8,259 630,258.5" fill="none" stroke="#7e0404" stroke-width="3.0" stroke-linecap="butt" stroke-linejoin="round" opacity="1.0"/><path d="M570,238.2 C573.5,239.8 577,241.4 580.3,243.3 C583,245.5 585.5,248.3 587.9,251 C591,253.3 594.5,255.5 598,257.3 C602.3,258.5 606.5,259.3 610.8,259.8 C615,260.1 619.3,260.1 623.5,259.8 C625.8,259.5 627.8,259 630,258.5" fill="none" stroke="#c41010" stroke-width="1.65" stroke-linecap="butt" stroke-linejoin="round" opacity="1.0"/>
<path d="M568.5,241.5 C572,243.5 575.5,245.5 578.8,247.2 C581.5,249.5 584,252 586.4,254.5 C589.5,257 593,259 597,260.6 C601.5,261.8 606,262.5 610.5,262.8 C615,263 619.5,263 624,262.8 C626,262.6 628,262.3 630,262" fill="none" stroke="#7e0404" stroke-width="3.0" stroke-linecap="butt" stroke-linejoin="round" opacity="1.0"/><path d="M568.5,241.5 C572,243.5 575.5,245.5 578.8,247.2 C581.5,249.5 584,252 586.4,254.5 C589.5,257 593,259 597,260.6 C601.5,261.8 606,262.5 610.5,262.8 C615,263 619.5,263 624,262.8 C626,262.6 628,262.3 630,262" fill="none" stroke="#c41010" stroke-width="1.65" stroke-linecap="butt" stroke-linejoin="round" opacity="1.0"/>
<path d="M582.8,235.7 C587,239 591.5,242.5 595.5,245.8 C599.5,249 603,251.5 607,254 C611.5,256.5 616,258 620,258.8" fill="none" stroke="#7e0404" stroke-width="3.0" stroke-linecap="butt" stroke-linejoin="round" opacity="1.0"/><path d="M582.8,235.7 C587,239 591.5,242.5 595.5,245.8 C599.5,249 603,251.5 607,254 C611.5,256.5 616,258 620,258.8" fill="none" stroke="#c41010" stroke-width="1.65" stroke-linecap="butt" stroke-linejoin="round" opacity="1.0"/>
<path d="M572,200 C574,210 573,222 568,232 C565,238 563,244 564,250" fill="none" stroke="#7e0404" stroke-width="3.0" stroke-linecap="butt" stroke-linejoin="round" opacity="1.0"/><path d="M572,200 C574,210 573,222 568,232 C565,238 563,244 564,250" fill="none" stroke="#c41010" stroke-width="1.65" stroke-linecap="butt" stroke-linejoin="round" opacity="1.0"/>
<path d="M566,214 C569,220 571,228 570,236 C569,242 567,247 566,252" fill="none" stroke="#7e0404" stroke-width="3.0" stroke-linecap="butt" stroke-linejoin="round" opacity="1.0"/><path d="M566,214 C569,220 571,228 570,236 C569,242 567,247 566,252" fill="none" stroke="#c41010" stroke-width="1.65" stroke-linecap="butt" stroke-linejoin="round" opacity="1.0"/>
<path d="M573,190 C576,198 577,206 575,214 C573,222 569,228 566,234" fill="none" stroke="#7e0404" stroke-width="3.0" stroke-linecap="butt" stroke-linejoin="round" opacity="1.0"/><path d="M573,190 C576,198 577,206 575,214 C573,222 569,228 566,234" fill="none" stroke="#c41010" stroke-width="1.65" stroke-linecap="butt" stroke-linejoin="round" opacity="1.0"/>
<path d="M564.5,130 C566,140 568,150 570,160 C571,168 572,176 572.5,186" fill="none" stroke="#7e0404" stroke-width="3.0" stroke-linecap="butt" stroke-linejoin="round" opacity="1.0"/><path d="M564.5,130 C566,140 568,150 570,160 C571,168 572,176 572.5,186" fill="none" stroke="#c41010" stroke-width="1.65" stroke-linecap="butt" stroke-linejoin="round" opacity="1.0"/>
<path d="M572.6,237.3 C575,236 577,235 579.3,233.2 C581,231 583,229.5 584.7,227.8 C586,226 587,224 587.4,222.4 C588.5,221 589.5,220.5 590.5,220.2" fill="none" stroke="#a89a20" stroke-width="6"/>
<path d="M572.6,237.3 C575,236 577,235 579.3,233.2 C581,231 583,229.5 584.7,227.8 C586,226 587,224 587.4,222.4 C588.5,221 589.5,220.5 590.5,220.2" fill="none" stroke="#ecdc48" stroke-width="3.6"/>
<ellipse cx="590.5" cy="220.5" rx="3.6" ry="3" fill="#e4d440" stroke="#a89a20" stroke-width="0.9"/>
<g stroke="#000" stroke-width="1.2" fill="none"><path d="M582.4,15.6 V42.2 H608.9"/><rect x="582.4" y="34.4" width="8.6" height="7.8" fill="#fff" stroke-width="1"/></g><text x="579.5" y="12" font-size="8" fill="#111">z</text><text x="612.6" y="45" font-size="8" fill="#111">x</text>
<rect x="336.3" y="242.6" width="149.3" height="22.3" fill="#fff" stroke="#9a9a9a" stroke-width="0.8"/><rect x="391.30" y="244.8" width="3.55" height="10" fill="rgb(0,20,210)"/><rect x="394.55" y="244.8" width="3.55" height="10" fill="rgb(0,45,255)"/><rect x="397.80" y="244.8" width="3.55" height="10" fill="rgb(0,80,255)"/><rect x="401.04" y="244.8" width="3.55" height="10" fill="rgb(0,120,255)"/><rect x="404.29" y="244.8" width="3.55" height="10" fill="rgb(0,160,255)"/><rect x="407.54" y="244.8" width="3.55" height="10" fill="rgb(0,220,255)"/><rect x="410.79" y="244.8" width="3.55" height="10" fill="rgb(0,245,250)"/><rect x="414.04" y="244.8" width="3.55" height="10" fill="rgb(0,255,225)"/><rect x="417.28" y="244.8" width="3.55" height="10" fill="rgb(0,255,195)"/><rect x="420.53" y="244.8" width="3.55" height="10" fill="rgb(0,250,150)"/><rect x="423.78" y="244.8" width="3.55" height="10" fill="rgb(0,240,70)"/><rect x="427.03" y="244.8" width="3.55" height="10" fill="rgb(0,240,30)"/><rect x="430.28" y="244.8" width="3.55" height="10" fill="rgb(20,240,0)"/><rect x="433.52" y="244.8" width="3.55" height="10" fill="rgb(45,240,0)"/><rect x="436.77" y="244.8" width="3.55" height="10" fill="rgb(70,240,0)"/><rect x="440.02" y="244.8" width="3.55" height="10" fill="rgb(150,240,0)"/><rect x="443.27" y="244.8" width="3.55" height="10" fill="rgb(190,245,0)"/><rect x="446.52" y="244.8" width="3.55" height="10" fill="rgb(225,245,0)"/><rect x="449.76" y="244.8" width="3.55" height="10" fill="rgb(250,240,0)"/><rect x="453.01" y="244.8" width="3.55" height="10" fill="rgb(255,220,0)"/><rect x="456.26" y="244.8" width="3.55" height="10" fill="rgb(255,150,0)"/><rect x="459.51" y="244.8" width="3.55" height="10" fill="rgb(255,115,0)"/><rect x="462.76" y="244.8" width="3.55" height="10" fill="rgb(255,80,0)"/><rect x="466.00" y="244.8" width="3.55" height="10" fill="rgb(255,50,0)"/><rect x="469.25" y="244.8" width="3.55" height="10" fill="rgb(250,20,0)"/><rect x="407.14" y="244.8" width="0.8" height="10" fill="#000" opacity="0.3"/><rect x="423.38" y="244.8" width="0.8" height="10" fill="#000" opacity="0.3"/><rect x="439.62" y="244.8" width="0.8" height="10" fill="#000" opacity="0.3"/><rect x="455.86" y="244.8" width="0.8" height="10" fill="#000" opacity="0.3"/><g font-size="6.9" font-weight="bold" fill="#111"><text transform="translate(343.9,263) scale(1,1.08)">np [cm^-3]:</text><text transform="translate(386.3,263) scale(1,1.08)">0.01</text><text transform="translate(402.5,263) scale(1,1.08)">0.02</text><text transform="translate(418.7,263) scale(1,1.08)">0.04</text><text transform="translate(434.9,263) scale(1,1.08)">0.06</text><text transform="translate(451.1,263) scale(1,1.08)">0.08</text></g>
</svg></body></html>
